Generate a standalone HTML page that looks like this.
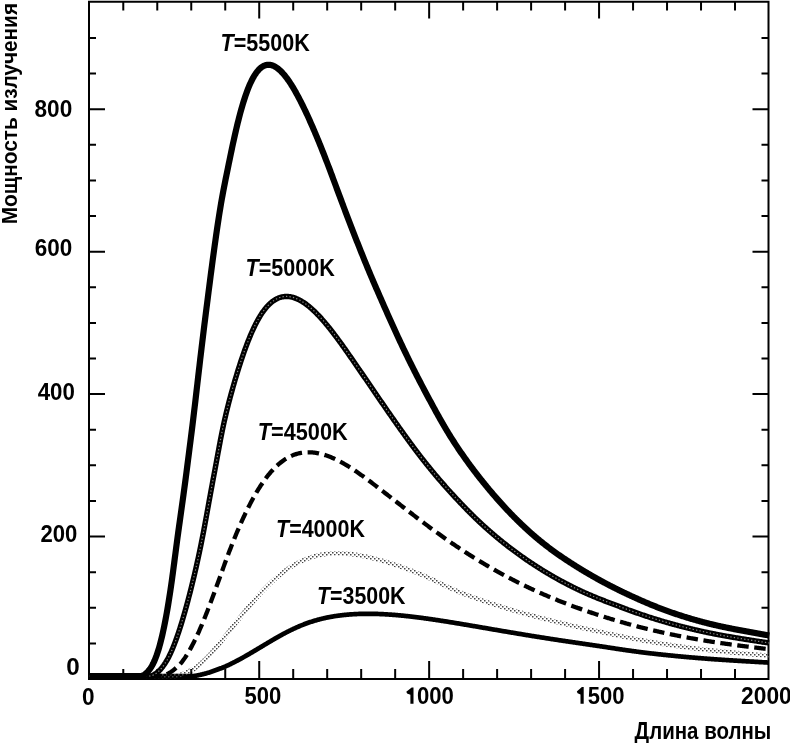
<!DOCTYPE html>
<html><head><meta charset="utf-8"><style>
html,body{margin:0;padding:0;background:#fff;}
body{width:790px;height:743px;overflow:hidden;position:relative;}
svg{position:absolute;left:0;top:0;will-change:transform;}
text{font-family:"Liberation Sans",sans-serif;font-weight:bold;fill:#000;}
</style></head><body>
<svg width="790" height="743" viewBox="0 0 790 743">
<defs>
<pattern id="chk" width="4" height="4" patternUnits="userSpaceOnUse">
<rect x="0" y="0" width="1.5" height="1.5" fill="#444"/>
<rect x="2" y="2" width="1.5" height="1.5" fill="#444"/>
</pattern>
</defs>
<g fill="none" stroke="#000" stroke-width="2">
<path d="M89 1.8 H768.5 V679 H89 Z"/>
<path d="M123.28 679.00 V669.00 M123.28 1.80 V10.60 M157.27 679.00 V669.00 M157.27 1.80 V10.60 M191.25 679.00 V669.00 M191.25 1.80 V10.60 M225.24 679.00 V669.00 M225.24 1.80 V10.60 M259.22 679.00 V661.00 M259.22 1.80 V18.60 M293.21 679.00 V669.00 M293.21 1.80 V10.60 M327.19 679.00 V669.00 M327.19 1.80 V10.60 M361.18 679.00 V669.00 M361.18 1.80 V10.60 M395.17 679.00 V669.00 M395.17 1.80 V10.60 M429.15 679.00 V661.00 M429.15 1.80 V18.60 M463.13 679.00 V669.00 M463.13 1.80 V10.60 M497.12 679.00 V669.00 M497.12 1.80 V10.60 M531.11 679.00 V669.00 M531.11 1.80 V10.60 M565.09 679.00 V669.00 M565.09 1.80 V10.60 M599.07 679.00 V661.00 M599.07 1.80 V18.60 M633.06 679.00 V669.00 M633.06 1.80 V10.60 M667.04 679.00 V669.00 M667.04 1.80 V10.60 M701.03 679.00 V669.00 M701.03 1.80 V10.60 M735.01 679.00 V669.00 M735.01 1.80 V10.60 M89.00 643.39 H96.00 M768.50 643.39 H761.50 M89.00 607.77 H96.00 M768.50 607.77 H761.50 M89.00 572.16 H96.00 M768.50 572.16 H761.50 M89.00 536.55 H105.00 M768.50 536.55 H752.50 M89.00 500.94 H96.00 M768.50 500.94 H761.50 M89.00 465.32 H96.00 M768.50 465.32 H761.50 M89.00 429.71 H96.00 M768.50 429.71 H761.50 M89.00 394.10 H105.00 M768.50 394.10 H752.50 M89.00 358.49 H96.00 M768.50 358.49 H761.50 M89.00 322.88 H96.00 M768.50 322.88 H761.50 M89.00 287.26 H96.00 M768.50 287.26 H761.50 M89.00 251.65 H105.00 M768.50 251.65 H752.50 M89.00 216.04 H96.00 M768.50 216.04 H761.50 M89.00 180.42 H96.00 M768.50 180.42 H761.50 M89.00 144.81 H96.00 M768.50 144.81 H761.50 M89.00 109.20 H105.00 M768.50 109.20 H752.50 M89.00 73.59 H96.00 M768.50 73.59 H761.50 M89.00 37.97 H96.00 M768.50 37.97 H761.50"/>
</g>
<g fill="none" stroke-linejoin="round">
<path d="M89.64 676.00 L90.32 676.00 L91.00 676.00 L91.68 676.00 L92.36 676.00 L93.04 676.00 L93.72 676.00 L94.40 676.00 L95.08 676.00 L95.76 676.00 L96.44 676.00 L97.12 676.00 L97.80 676.00 L98.48 676.00 L99.16 676.00 L99.84 676.00 L100.52 676.00 L101.19 676.00 L101.87 676.00 L102.55 676.00 L103.23 676.00 L103.91 676.00 L104.59 676.00 L105.27 676.00 L105.95 676.00 L106.63 676.00 L107.31 676.00 L107.99 676.00 L108.67 676.00 L109.35 676.00 L110.03 676.00 L110.71 676.00 L111.39 676.00 L112.07 676.00 L112.75 676.00 L113.43 676.00 L114.11 676.00 L114.79 676.00 L115.47 676.00 L116.15 676.00 L116.83 676.00 L117.51 676.00 L118.19 676.00 L118.87 676.00 L119.55 676.00 L120.23 676.00 L120.91 676.00 L121.59 676.00 L122.27 676.00 L122.95 676.00 L123.62 676.00 L124.30 676.00 L124.98 676.00 L125.66 676.00 L126.34 676.00 L127.02 676.00 L127.70 676.00 L128.38 676.00 L129.06 676.00 L129.74 676.00 L130.42 676.00 L131.10 676.00 L131.78 676.00 L132.46 676.00 L133.14 676.00 L133.82 676.00 L134.50 676.00 L135.18 676.00 L135.86 676.00 L136.54 676.00 L137.22 676.00 L137.90 676.00 L138.58 676.00 L139.26 676.00 L139.94 676.00 L140.62 676.00 L141.30 676.00 L141.98 676.00 L142.66 676.00 L143.34 676.00 L144.02 676.00 L144.70 676.00 L145.38 676.00 L146.05 676.00 L146.73 676.00 L147.41 676.00 L148.09 676.00 L148.77 676.00 L149.45 676.00 L150.13 676.00 L150.81 676.00 L151.49 676.00 L152.17 676.00 L152.85 676.00 L153.53 676.00 L154.21 676.00 L154.89 676.00 L155.57 676.00 L156.25 676.00 L156.93 676.00 L157.61 676.00 L158.29 676.00 L158.97 676.00 L159.65 676.00 L160.33 676.00 L161.01 676.00 L161.69 676.00 L162.37 676.00 L163.05 676.00 L163.73 676.00 L164.41 676.00 L165.09 676.00 L165.77 676.00 L166.45 676.00 L167.13 676.00 L167.81 676.00 L168.49 676.00 L169.16 676.00 L169.84 676.00 L170.52 676.00 L171.20 676.00 L171.88 676.00 L172.56 676.00 L173.24 676.00 L173.92 676.00 L174.60 676.00 L175.28 676.00 L175.96 676.00 L176.64 676.00 L177.32 676.00 L178.00 676.00 L178.68 676.00 L179.36 676.00 L180.04 676.00 L180.72 676.00 L181.40 676.00 L182.08 676.00 L182.76 676.00 L183.44 676.00 L184.12 676.00 L184.80 676.00 L185.48 676.00 L186.16 676.00 L186.84 676.00 L187.52 676.00 L188.20 676.00 L188.88 676.00 L189.56 676.00 L190.24 676.00 L190.92 676.00 L191.60 676.00 L192.28 676.00 L192.96 676.00 L193.64 676.00 L194.32 675.95 L195.00 675.84 L195.68 675.72 L196.36 675.60 L197.04 675.47 L197.72 675.34 L198.40 675.21 L199.09 675.07 L199.77 674.93 L200.45 674.78 L201.13 674.63 L201.81 674.47 L202.49 674.31 L203.17 674.14 L203.85 673.97 L204.53 673.79 L205.21 673.61 L205.89 673.43 L206.57 673.23 L207.25 673.04 L207.93 672.84 L208.62 672.64 L209.30 672.43 L209.98 672.21 L210.66 671.99 L211.34 671.77 L212.02 671.54 L212.70 671.31 L213.38 671.07 L214.06 670.83 L214.74 670.58 L215.42 670.33 L216.10 670.08 L216.79 669.82 L217.47 669.55 L218.15 669.28 L218.83 669.01 L219.51 668.73 L220.19 668.45 L220.95 668.35 L221.64 668.07 L222.32 667.78 L223.01 667.49 L223.69 667.19 L224.38 666.89 L225.06 666.59 L225.75 666.28 L226.43 665.97 L227.12 665.66 L227.80 665.34 L228.49 665.02 L229.17 664.69 L229.86 664.37 L230.54 664.03 L231.23 663.70 L231.91 663.36 L232.59 663.02 L233.28 662.67 L233.96 662.33 L234.65 661.98 L235.33 661.62 L236.01 661.27 L236.70 660.91 L237.38 660.55 L238.07 660.18 L238.75 659.82 L239.43 659.45 L240.11 659.08 L240.80 658.71 L241.48 658.33 L242.16 657.95 L242.84 657.58 L243.52 657.19 L244.21 656.81 L244.89 656.43 L245.57 656.04 L246.25 655.65 L246.93 655.26 L247.61 654.87 L248.29 654.48 L248.97 654.09 L249.65 653.69 L250.32 653.30 L251.00 652.90 L251.68 652.50 L252.36 652.10 L253.03 651.70 L253.71 651.30 L254.39 650.90 L255.06 650.50 L255.74 650.10 L256.41 649.70 L257.09 649.29 L257.76 648.89 L258.44 648.49 L259.11 648.08 L259.78 647.68 L260.46 647.27 L261.13 646.87 L261.80 646.46 L262.47 646.06 L263.14 645.66 L263.81 645.25 L264.48 644.85 L265.16 644.45 L265.83 644.05 L266.50 643.65 L267.17 643.25 L267.83 642.85 L268.50 642.45 L269.17 642.05 L269.84 641.65 L270.51 641.26 L271.18 640.86 L271.85 640.47 L272.52 640.08 L273.18 639.68 L273.85 639.29 L274.52 638.91 L275.19 638.52 L275.86 638.14 L276.52 637.75 L277.19 637.37 L277.86 636.99 L278.53 636.62 L279.20 636.24 L279.86 635.87 L280.53 635.50 L281.20 635.13 L281.87 634.76 L282.54 634.40 L283.21 634.04 L283.88 633.68 L284.55 633.32 L285.22 632.97 L285.89 632.62 L286.56 632.27 L287.23 631.92 L287.90 631.58 L288.57 631.24 L289.24 630.90 L289.92 630.57 L290.59 630.24 L291.26 629.91 L291.93 629.58 L292.61 629.26 L293.28 628.94 L293.95 628.63 L294.63 628.32 L295.30 628.01 L295.98 627.70 L296.65 627.40 L297.33 627.10 L298.01 626.81 L298.68 626.52 L299.36 626.23 L300.04 625.94 L300.72 625.66 L301.39 625.38 L302.07 625.11 L302.75 624.84 L303.43 624.57 L304.11 624.31 L304.79 624.05 L305.47 623.79 L306.15 623.54 L306.83 623.29 L307.51 623.05 L308.19 622.81 L308.87 622.57 L309.56 622.33 L310.24 622.10 L310.92 621.88 L311.60 621.65 L312.29 621.44 L312.97 621.22 L313.65 621.01 L314.34 620.80 L315.02 620.59 L315.70 620.39 L316.39 620.20 L317.07 620.00 L317.76 619.81 L318.44 619.62 L319.13 619.44 L319.81 619.26 L320.50 619.09 L321.18 618.91 L321.87 618.74 L322.55 618.58 L323.24 618.42 L323.92 618.26 L324.61 618.10 L325.29 617.95 L325.98 617.80 L326.66 617.65 L327.35 617.51 L328.03 617.37 L328.72 617.24 L329.40 617.11 L330.09 616.98 L330.77 616.85 L331.46 616.73 L332.14 616.61 L332.83 616.49 L333.51 616.38 L334.20 616.26 L334.88 616.16 L335.57 616.05 L336.25 615.95 L336.94 615.85 L337.62 615.75 L338.31 615.66 L338.99 615.57 L339.68 615.48 L340.36 615.39 L341.04 615.31 L341.73 615.23 L342.41 615.15 L343.09 615.08 L343.78 615.00 L344.46 614.93 L345.14 614.86 L345.83 614.80 L346.51 614.73 L347.19 614.67 L347.88 614.62 L348.56 614.56 L349.24 614.50 L349.92 614.45 L350.61 614.40 L351.29 614.36 L351.97 614.31 L352.65 614.27 L353.33 614.23 L354.02 614.19 L354.70 614.15 L355.38 614.11 L356.06 614.08 L356.74 614.05 L357.42 614.02 L358.11 613.99 L358.79 613.97 L359.47 613.94 L360.15 613.92 L360.83 613.90 L361.51 613.89 L362.19 613.87 L362.87 613.86 L363.55 613.84 L364.23 613.83 L364.91 613.82 L365.59 613.82 L366.27 613.81 L366.95 613.81 L367.63 613.81 L368.32 613.81 L369.00 613.81 L369.68 613.81 L370.36 613.82 L371.04 613.82 L371.72 613.83 L372.40 613.84 L373.08 613.85 L373.76 613.86 L374.44 613.88 L375.12 613.89 L375.80 613.91 L376.48 613.93 L377.16 613.95 L377.84 613.97 L378.51 613.99 L379.19 614.02 L379.87 614.05 L380.55 614.07 L381.23 614.10 L381.91 614.13 L382.59 614.16 L383.27 614.20 L383.95 614.23 L384.63 614.27 L385.31 614.30 L385.99 614.34 L386.67 614.38 L387.35 614.42 L388.03 614.47 L388.71 614.51 L389.39 614.56 L390.07 614.60 L390.75 614.65 L391.43 614.70 L392.11 614.75 L392.79 614.80 L393.47 614.85 L394.15 614.90 L394.83 614.96 L395.51 615.01 L396.19 615.07 L396.87 615.13 L397.54 615.19 L398.22 615.25 L398.90 615.31 L399.58 615.37 L400.26 615.43 L400.94 615.50 L401.62 615.56 L402.30 615.63 L402.98 615.70 L403.66 615.77 L404.34 615.83 L405.02 615.90 L405.70 615.98 L406.38 616.05 L407.06 616.12 L407.74 616.19 L408.42 616.27 L409.10 616.35 L409.78 616.42 L410.46 616.50 L411.14 616.58 L411.82 616.66 L412.50 616.74 L413.18 616.82 L413.86 616.90 L414.53 616.98 L415.21 617.06 L415.89 617.15 L416.57 617.23 L417.25 617.32 L417.93 617.40 L418.61 617.49 L419.29 617.58 L419.97 617.67 L420.65 617.76 L421.33 617.85 L422.01 617.94 L422.69 618.03 L423.37 618.12 L424.05 618.21 L424.73 618.30 L425.41 618.40 L426.09 618.49 L426.77 618.59 L427.45 618.68 L428.13 618.78 L428.81 618.87 L429.49 618.97 L430.17 619.07 L430.85 619.17 L431.53 619.27 L432.21 619.37 L432.89 619.47 L433.57 619.57 L434.24 619.67 L434.92 619.77 L435.60 619.87 L436.28 619.97 L436.96 620.07 L437.64 620.18 L438.32 620.28 L439.00 620.38 L439.68 620.49 L440.36 620.59 L441.04 620.70 L441.72 620.80 L442.40 620.91 L443.08 621.01 L443.76 621.12 L444.44 621.23 L445.12 621.34 L445.80 621.44 L446.48 621.55 L447.16 621.66 L447.84 621.77 L448.52 621.88 L449.20 621.99 L449.88 622.10 L450.56 622.21 L451.24 622.32 L451.92 622.43 L452.60 622.54 L453.28 622.65 L453.96 622.76 L454.64 622.87 L455.32 622.98 L456.00 623.09 L456.68 623.21 L457.36 623.32 L458.04 623.43 L458.72 623.54 L459.39 623.66 L460.07 623.77 L460.75 623.88 L461.43 624.00 L462.11 624.11 L462.79 624.22 L463.47 624.34 L464.15 624.45 L464.83 624.57 L465.51 624.68 L466.19 624.80 L466.87 624.91 L467.55 625.03 L468.23 625.14 L468.91 625.26 L469.59 625.37 L470.27 625.49 L470.95 625.60 L471.63 625.72 L472.31 625.84 L472.99 625.95 L473.67 626.07 L474.35 626.18 L475.03 626.30 L475.71 626.42 L476.39 626.53 L477.07 626.65 L477.75 626.77 L478.43 626.88 L479.11 627.00 L479.79 627.12 L480.47 627.23 L481.15 627.35 L481.83 627.47 L482.51 627.58 L483.19 627.70 L483.87 627.82 L484.55 627.93 L485.22 628.05 L485.90 628.17 L486.58 628.28 L487.26 628.40 L487.94 628.52 L488.62 628.63 L489.30 628.75 L489.98 628.87 L490.66 628.99 L491.34 629.10 L492.02 629.22 L492.70 629.34 L493.38 629.45 L494.06 629.57 L494.74 629.69 L495.42 629.80 L496.10 629.92 L496.78 630.04 L497.46 630.15 L498.14 630.27 L498.82 630.38 L499.50 630.50 L500.18 630.62 L500.86 630.73 L501.54 630.85 L502.22 630.97 L502.90 631.08 L503.58 631.20 L504.26 631.31 L504.94 631.43 L505.62 631.54 L506.30 631.66 L506.98 631.78 L507.66 631.89 L508.34 632.01 L509.01 632.12 L509.69 632.24 L510.37 632.35 L511.05 632.46 L511.73 632.58 L512.41 632.69 L513.09 632.81 L513.77 632.92 L514.45 633.04 L515.13 633.15 L515.81 633.26 L516.49 633.38 L517.17 633.49 L517.85 633.61 L518.53 633.72 L519.21 633.83 L519.89 633.94 L520.57 634.06 L521.25 634.17 L521.93 634.28 L522.61 634.39 L523.29 634.51 L523.97 634.62 L524.65 634.73 L525.33 634.84 L526.01 634.95 L526.69 635.07 L527.37 635.18 L528.05 635.29 L528.73 635.40 L529.41 635.51 L530.09 635.62 L530.77 635.73 L531.44 635.84 L532.12 635.95 L532.80 636.06 L533.48 636.17 L534.16 636.28 L534.84 636.39 L535.52 636.50 L536.20 636.61 L536.88 636.72 L537.56 636.83 L538.24 636.93 L538.92 637.04 L539.60 637.15 L540.28 637.26 L540.96 637.37 L541.64 637.47 L542.32 637.58 L543.00 637.69 L543.68 637.80 L544.36 637.90 L545.04 638.01 L545.72 638.12 L546.40 638.22 L547.08 638.33 L547.76 638.43 L548.44 638.54 L549.12 638.65 L549.80 638.75 L550.48 638.86 L551.16 638.96 L551.84 639.07 L552.52 639.17 L553.19 639.27 L553.87 639.38 L554.55 639.48 L555.23 639.59 L555.91 639.69 L556.59 639.79 L557.27 639.90 L557.95 640.00 L558.63 640.10 L559.31 640.20 L559.99 640.31 L560.67 640.41 L561.35 640.51 L562.03 640.61 L562.71 640.72 L563.39 640.82 L564.07 640.92 L564.75 641.02 L565.43 641.12 L566.11 641.22 L566.79 641.32 L567.47 641.42 L568.15 641.52 L568.83 641.62 L569.51 641.72 L570.18 641.82 L570.86 641.92 L571.54 642.02 L572.22 642.12 L572.90 642.22 L573.58 642.32 L574.26 642.42 L574.94 642.52 L575.62 642.62 L576.30 642.72 L576.98 642.82 L577.66 642.92 L578.34 643.02 L579.02 643.12 L579.70 643.21 L580.38 643.31 L581.05 643.41 L581.73 643.51 L582.41 643.61 L583.09 643.71 L583.77 643.81 L584.45 643.91 L585.13 644.01 L585.81 644.10 L586.49 644.20 L587.17 644.30 L587.84 644.40 L588.52 644.50 L589.20 644.60 L589.88 644.70 L590.56 644.80 L591.24 644.90 L591.92 645.00 L592.60 645.10 L593.27 645.20 L593.95 645.30 L594.63 645.40 L595.31 645.50 L595.99 645.60 L596.67 645.71 L597.34 645.81 L598.02 645.91 L598.70 646.01 L599.38 646.11 L600.06 646.21 L600.73 646.32 L601.41 646.42 L602.09 646.52 L602.77 646.63 L603.45 646.73 L604.12 646.83 L604.80 646.94 L605.48 647.04 L606.16 647.14 L606.83 647.25 L607.51 647.35 L608.19 647.45 L608.87 647.56 L609.54 647.66 L610.22 647.77 L610.90 647.87 L611.58 647.97 L612.25 648.08 L612.93 648.18 L613.61 648.29 L614.29 648.39 L614.96 648.49 L615.64 648.60 L616.32 648.70 L617.00 648.80 L617.67 648.91 L618.35 649.01 L619.03 649.11 L619.71 649.21 L620.38 649.32 L621.06 649.42 L621.74 649.52 L622.42 649.62 L623.10 649.72 L623.77 649.82 L624.45 649.92 L625.13 650.02 L625.81 650.11 L626.48 650.21 L627.16 650.31 L627.84 650.41 L628.52 650.50 L629.20 650.60 L629.87 650.69 L630.55 650.79 L631.23 650.88 L631.91 650.98 L632.59 651.07 L633.27 651.16 L633.94 651.25 L634.62 651.35 L635.30 651.44 L635.98 651.53 L636.66 651.62 L637.34 651.71 L638.02 651.79 L638.69 651.88 L639.37 651.97 L640.05 652.06 L640.73 652.14 L641.41 652.23 L642.09 652.32 L642.77 652.40 L643.45 652.48 L644.13 652.57 L644.81 652.65 L645.48 652.73 L646.16 652.82 L646.84 652.90 L647.52 652.98 L648.20 653.06 L648.88 653.14 L649.56 653.22 L650.24 653.30 L650.92 653.38 L651.60 653.46 L652.28 653.54 L652.96 653.62 L653.64 653.69 L654.32 653.77 L655.00 653.85 L655.68 653.92 L656.36 654.00 L657.03 654.07 L657.71 654.15 L658.39 654.22 L659.07 654.30 L659.75 654.37 L660.43 654.45 L661.11 654.52 L661.79 654.59 L662.47 654.66 L663.15 654.74 L663.83 654.81 L664.51 654.88 L665.19 654.95 L665.87 655.02 L666.55 655.09 L667.23 655.16 L667.91 655.23 L668.59 655.30 L669.27 655.37 L669.95 655.44 L670.63 655.51 L671.31 655.57 L671.99 655.64 L672.67 655.71 L673.35 655.78 L674.03 655.84 L674.71 655.91 L675.39 655.97 L676.07 656.04 L676.75 656.11 L677.43 656.17 L678.11 656.24 L678.79 656.30 L679.47 656.36 L680.15 656.43 L680.83 656.49 L681.51 656.56 L682.19 656.62 L682.87 656.68 L683.55 656.74 L684.23 656.81 L684.91 656.87 L685.59 656.93 L686.27 656.99 L686.95 657.05 L687.63 657.11 L688.31 657.17 L688.99 657.23 L689.67 657.29 L690.35 657.35 L691.03 657.41 L691.72 657.47 L692.40 657.53 L693.08 657.59 L693.76 657.64 L694.44 657.70 L695.12 657.76 L695.80 657.82 L696.48 657.87 L697.16 657.93 L697.84 657.98 L698.52 658.04 L699.20 658.10 L699.88 658.15 L700.56 658.21 L701.24 658.26 L701.92 658.31 L702.60 658.37 L703.28 658.42 L703.96 658.48 L704.64 658.53 L705.32 658.58 L706.00 658.63 L706.68 658.69 L707.36 658.74 L708.04 658.79 L708.72 658.84 L709.41 658.89 L710.09 658.94 L710.77 658.99 L711.45 659.04 L712.13 659.09 L712.81 659.14 L713.49 659.19 L714.17 659.24 L714.85 659.29 L715.53 659.33 L716.21 659.38 L716.89 659.43 L717.57 659.48 L718.25 659.52 L718.93 659.57 L719.61 659.62 L720.29 659.66 L720.97 659.71 L721.66 659.76 L722.34 659.80 L723.02 659.85 L723.70 659.89 L724.38 659.94 L725.06 659.98 L725.74 660.02 L726.42 660.07 L727.10 660.11 L727.78 660.16 L728.46 660.20 L729.14 660.24 L729.82 660.29 L730.50 660.33 L731.18 660.37 L731.86 660.41 L732.55 660.46 L733.23 660.50 L733.91 660.54 L734.59 660.58 L735.27 660.62 L735.95 660.67 L736.63 660.71 L737.31 660.75 L737.99 660.79 L738.67 660.83 L739.35 660.87 L740.03 660.91 L740.71 660.95 L741.39 660.99 L742.07 661.03 L742.75 661.07 L743.43 661.12 L744.11 661.16 L744.79 661.20 L745.48 661.24 L746.16 661.28 L746.84 661.32 L747.52 661.36 L748.20 661.40 L748.88 661.44 L749.56 661.48 L750.24 661.52 L750.92 661.56 L751.60 661.60 L752.28 661.64 L752.96 661.68 L753.64 661.72 L754.32 661.75 L755.00 661.79 L755.68 661.83 L756.36 661.87 L757.04 661.91 L757.72 661.95 L758.40 661.99 L759.08 662.03 L759.76 662.07 L760.44 662.11 L761.12 662.15 L761.80 662.19 L762.48 662.23 L763.16 662.27 L763.84 662.31 L764.52 662.35 L765.20 662.39 L765.88 662.43 L766.56 662.46 L767.24 662.50 L767.92 662.54 L768.60 662.58 L768.94 662.60" stroke="#000" stroke-width="4.7"/>
<path d="M89.64 676.00 L90.32 676.00 L91.00 676.00 L91.68 676.00 L92.36 676.00 L93.04 676.00 L93.72 676.00 L94.40 676.00 L95.08 676.00 L95.76 676.00 L96.44 676.00 L97.12 676.00 L97.80 676.00 L98.48 676.00 L99.16 676.00 L99.84 676.00 L100.52 676.00 L101.19 676.00 L101.87 676.00 L102.55 676.00 L103.23 676.00 L103.91 676.00 L104.59 676.00 L105.27 676.00 L105.95 676.00 L106.63 676.00 L107.31 676.00 L107.99 676.00 L108.67 676.00 L109.35 676.00 L110.03 676.00 L110.71 676.00 L111.39 676.00 L112.07 676.00 L112.75 676.00 L113.43 676.00 L114.11 676.00 L114.79 676.00 L115.47 676.00 L116.15 676.00 L116.83 676.00 L117.51 676.00 L118.19 676.00 L118.87 676.00 L119.55 676.00 L120.23 676.00 L120.91 676.00 L121.59 676.00 L122.27 676.00 L122.95 676.00 L123.62 676.00 L124.30 676.00 L124.98 676.00 L125.66 676.00 L126.34 676.00 L127.02 676.00 L127.70 676.00 L128.38 676.00 L129.06 676.00 L129.74 676.00 L130.42 676.00 L131.10 676.00 L131.78 676.00 L132.46 676.00 L133.14 676.00 L133.82 676.00 L134.50 676.00 L135.18 676.00 L135.86 676.00 L136.54 676.00 L137.22 676.00 L137.90 676.00 L138.58 676.00 L139.26 676.00 L139.94 676.00 L140.62 676.00 L141.30 676.00 L141.98 676.00 L142.66 676.00 L143.34 676.00 L144.02 676.00 L144.70 676.00 L145.38 676.00 L146.05 676.00 L146.73 676.00 L147.41 676.00 L148.09 676.00 L148.77 676.00 L149.45 676.00 L150.13 676.00 L150.81 676.00 L151.49 676.00 L152.17 676.00 L152.85 676.00 L153.53 676.00 L154.21 676.00 L154.89 676.00 L155.57 676.00 L156.25 676.00 L156.93 676.00 L157.61 676.00 L158.29 676.00 L158.97 676.00 L159.65 676.00 L160.33 676.00 L161.01 676.00 L161.69 676.00 L162.37 676.00 L163.06 676.00 L163.74 676.00 L164.42 676.00 L165.10 676.00 L165.78 676.00 L166.46 676.00 L167.15 676.00 L167.83 676.00 L168.51 676.00 L169.20 676.00 L169.88 676.00 L170.56 676.00 L171.25 676.00 L171.93 676.00 L172.62 676.00 L173.31 676.00 L173.99 676.00 L174.68 676.00 L175.37 676.00 L176.06 675.92 L176.75 675.75 L177.44 675.58 L178.13 675.40 L178.82 675.21 L179.51 675.00 L180.20 674.79 L180.90 674.57 L181.59 674.34 L182.28 674.09 L182.98 673.84 L183.67 673.57 L184.37 673.29 L185.06 673.00 L185.76 672.70 L186.46 672.39 L187.15 672.06 L187.85 671.72 L188.55 671.37 L189.25 671.01 L189.94 670.63 L190.64 670.25 L191.34 669.84 L192.42 670.04 L193.10 669.58 L193.79 669.11 L194.47 668.62 L195.16 668.13 L195.84 667.62 L196.52 667.10 L197.20 666.57 L197.88 666.03 L198.56 665.47 L199.24 664.91 L199.92 664.33 L200.59 663.74 L201.27 663.14 L201.95 662.53 L202.62 661.91 L203.30 661.28 L203.97 660.64 L204.65 659.99 L205.32 659.33 L206.00 658.66 L206.67 657.98 L207.34 657.29 L208.02 656.59 L208.69 655.88 L209.36 655.16 L210.04 654.44 L210.71 653.70 L211.38 652.96 L212.05 652.21 L212.73 651.45 L213.40 650.69 L214.07 649.91 L214.75 649.13 L215.42 648.35 L216.10 647.55 L216.77 646.76 L217.44 645.95 L218.12 645.14 L218.79 644.32 L219.47 643.50 L220.15 642.67 L220.82 641.84 L221.50 641.00 L222.18 640.16 L222.86 639.32 L223.53 638.47 L224.21 637.62 L224.89 636.76 L225.57 635.90 L226.25 635.04 L226.93 634.18 L227.61 633.31 L228.29 632.44 L228.98 631.57 L229.66 630.70 L230.34 629.83 L231.02 628.95 L231.71 628.08 L232.39 627.20 L233.08 626.33 L233.76 625.45 L234.45 624.57 L235.13 623.70 L235.82 622.82 L236.50 621.95 L237.19 621.07 L237.88 620.20 L238.56 619.33 L239.25 618.46 L239.94 617.59 L240.62 616.73 L241.31 615.86 L242.00 615.00 L242.69 614.14 L243.37 613.29 L244.06 612.43 L244.75 611.58 L245.44 610.74 L246.12 609.89 L246.81 609.05 L247.50 608.21 L248.19 607.38 L248.87 606.55 L249.56 605.73 L250.25 604.91 L250.94 604.09 L251.62 603.28 L252.31 602.48 L253.00 601.68 L253.68 600.88 L254.37 600.09 L255.05 599.30 L255.74 598.52 L256.42 597.75 L257.11 596.98 L257.79 596.21 L258.48 595.45 L259.16 594.70 L259.84 593.95 L260.52 593.21 L261.21 592.48 L261.89 591.75 L262.57 591.03 L263.25 590.31 L263.93 589.60 L264.61 588.90 L265.29 588.20 L265.97 587.51 L266.64 586.83 L267.32 586.15 L268.00 585.48 L268.68 584.82 L269.35 584.16 L270.03 583.51 L270.70 582.87 L271.38 582.24 L272.05 581.61 L272.72 580.99 L273.40 580.37 L274.07 579.76 L274.74 579.16 L275.41 578.57 L276.09 577.99 L276.76 577.41 L277.43 576.84 L278.10 576.27 L278.77 575.71 L279.44 575.16 L280.11 574.62 L280.77 574.09 L281.44 573.56 L282.11 573.04 L282.78 572.53 L283.45 572.02 L284.11 571.52 L284.78 571.03 L285.45 570.55 L286.11 570.07 L286.78 569.60 L287.45 569.14 L288.11 568.68 L288.78 568.24 L289.44 567.80 L290.11 567.36 L290.77 566.94 L291.44 566.52 L292.11 566.11 L292.77 565.70 L293.44 565.31 L294.10 564.92 L294.77 564.53 L295.43 564.16 L296.10 563.79 L296.76 563.43 L297.43 563.07 L298.09 562.73 L298.76 562.39 L299.42 562.05 L300.09 561.73 L300.75 561.41 L301.42 561.09 L302.09 560.79 L302.75 560.49 L303.42 560.20 L304.09 559.91 L304.75 559.63 L305.42 559.36 L306.09 559.09 L306.75 558.83 L307.42 558.58 L308.09 558.33 L308.76 558.09 L309.42 557.86 L310.09 557.63 L310.76 557.41 L311.43 557.20 L312.10 556.99 L312.77 556.79 L313.44 556.59 L314.11 556.40 L314.78 556.22 L315.45 556.04 L316.12 555.87 L316.79 555.70 L317.46 555.55 L318.13 555.39 L318.80 555.24 L319.48 555.10 L320.15 554.97 L320.82 554.83 L321.49 554.71 L322.17 554.59 L322.84 554.48 L323.52 554.37 L324.19 554.27 L324.86 554.17 L325.54 554.08 L326.21 553.99 L326.89 553.91 L327.56 553.83 L328.24 553.76 L328.92 553.70 L329.59 553.64 L330.27 553.58 L330.95 553.53 L331.62 553.48 L332.30 553.44 L332.98 553.41 L333.66 553.38 L334.33 553.35 L335.01 553.33 L335.69 553.31 L336.37 553.30 L337.05 553.30 L337.73 553.29 L338.41 553.29 L339.09 553.30 L339.77 553.31 L340.45 553.33 L341.13 553.35 L341.81 553.37 L342.49 553.40 L343.17 553.43 L343.85 553.47 L344.53 553.51 L345.21 553.55 L345.89 553.60 L346.57 553.65 L347.26 553.71 L347.94 553.77 L348.62 553.83 L349.30 553.90 L349.98 553.97 L350.66 554.05 L351.35 554.13 L352.03 554.21 L352.71 554.30 L353.39 554.39 L354.08 554.48 L354.76 554.57 L355.44 554.67 L356.12 554.78 L356.81 554.88 L357.49 554.99 L358.17 555.11 L358.86 555.22 L359.54 555.34 L360.22 555.46 L360.91 555.59 L361.59 555.72 L362.27 555.85 L362.95 555.98 L363.64 556.12 L364.32 556.26 L365.00 556.40 L365.69 556.54 L366.37 556.69 L367.05 556.84 L367.74 556.99 L368.42 557.15 L369.10 557.31 L369.79 557.47 L370.47 557.63 L371.15 557.80 L371.84 557.96 L372.52 558.13 L373.20 558.31 L373.89 558.48 L374.57 558.66 L375.25 558.84 L375.94 559.02 L376.62 559.20 L377.30 559.39 L377.99 559.57 L378.67 559.76 L379.35 559.95 L380.03 560.15 L380.72 560.34 L381.40 560.54 L382.08 560.74 L382.77 560.94 L383.45 561.14 L384.13 561.34 L384.81 561.55 L385.50 561.76 L386.18 561.97 L386.86 562.18 L387.54 562.39 L388.23 562.60 L388.91 562.82 L389.59 563.04 L390.27 563.25 L390.95 563.47 L391.64 563.70 L392.32 563.92 L393.00 564.14 L393.68 564.37 L394.36 564.60 L395.04 564.82 L395.73 565.05 L396.41 565.29 L397.09 565.52 L397.77 565.75 L398.45 565.99 L399.13 566.22 L399.81 566.46 L400.49 566.70 L401.17 566.94 L401.86 567.18 L402.54 567.42 L403.22 567.66 L403.90 567.91 L404.58 568.15 L405.26 568.40 L405.94 568.65 L406.61 568.90 L407.29 569.15 L407.97 569.40 L408.65 569.65 L409.33 569.91 L410.01 570.16 L410.69 570.42 L411.36 570.68 L412.04 570.94 L412.72 571.20 L413.40 571.46 L414.07 571.72 L414.75 571.98 L415.42 572.25 L416.10 572.52 L416.77 572.78 L417.45 573.05 L418.12 573.33 L418.80 573.60 L419.47 573.87 L420.14 574.15 L420.81 574.43 L421.49 574.71 L422.16 574.99 L422.83 575.27 L423.50 575.55 L424.17 575.84 L424.84 576.13 L425.50 576.42 L426.17 576.71 L426.84 577.01 L427.50 577.30 L428.17 577.60 L428.83 577.90 L429.50 578.20 L430.16 578.50 L430.82 578.81 L431.48 579.12 L432.14 579.43 L432.81 579.74 L433.47 580.05 L434.12 580.36 L434.78 580.68 L435.44 580.99 L436.10 581.31 L436.76 581.63 L437.41 581.95 L438.07 582.27 L438.73 582.59 L439.39 582.91 L440.04 583.23 L440.70 583.55 L441.35 583.87 L442.01 584.19 L442.67 584.51 L443.33 584.83 L443.98 585.15 L444.64 585.47 L445.30 585.79 L445.96 586.10 L446.62 586.41 L447.28 586.73 L447.94 587.04 L448.60 587.35 L449.26 587.65 L449.92 587.96 L450.59 588.26 L451.25 588.56 L451.91 588.86 L452.58 589.16 L453.25 589.45 L453.91 589.75 L454.58 590.04 L455.25 590.33 L455.92 590.62 L456.59 590.90 L457.26 591.18 L457.93 591.46 L458.60 591.74 L459.27 592.02 L459.94 592.30 L460.62 592.57 L461.29 592.84 L461.97 593.11 L462.64 593.38 L463.32 593.65 L463.99 593.91 L464.67 594.18 L465.35 594.44 L466.02 594.70 L466.70 594.96 L467.38 595.22 L468.06 595.48 L468.74 595.73 L469.42 595.99 L470.10 596.24 L470.78 596.49 L471.46 596.74 L472.14 596.99 L472.82 597.24 L473.50 597.49 L474.18 597.73 L474.86 597.98 L475.54 598.22 L476.23 598.47 L476.91 598.71 L477.59 598.95 L478.27 599.19 L478.96 599.43 L479.64 599.67 L480.32 599.91 L481.00 600.14 L481.69 600.38 L482.37 600.61 L483.06 600.85 L483.74 601.08 L484.42 601.31 L485.11 601.54 L485.79 601.77 L486.48 602.00 L487.16 602.23 L487.84 602.46 L488.53 602.69 L489.21 602.91 L489.90 603.14 L490.58 603.36 L491.27 603.59 L491.95 603.81 L492.64 604.03 L493.32 604.25 L494.01 604.47 L494.70 604.69 L495.38 604.91 L496.07 605.13 L496.75 605.35 L497.44 605.57 L498.12 605.78 L498.81 606.00 L499.49 606.21 L500.18 606.43 L500.87 606.64 L501.55 606.85 L502.24 607.06 L502.92 607.28 L503.61 607.49 L504.30 607.70 L504.98 607.90 L505.67 608.11 L506.36 608.32 L507.04 608.53 L507.73 608.73 L508.41 608.94 L509.10 609.14 L509.79 609.35 L510.47 609.55 L511.16 609.75 L511.85 609.95 L512.53 610.16 L513.22 610.36 L513.90 610.56 L514.59 610.76 L515.28 610.95 L515.96 611.15 L516.65 611.35 L517.34 611.55 L518.02 611.74 L518.71 611.94 L519.39 612.13 L520.08 612.33 L520.77 612.52 L521.45 612.72 L522.14 612.91 L522.83 613.10 L523.51 613.29 L524.20 613.48 L524.88 613.67 L525.57 613.86 L526.26 614.05 L526.94 614.24 L527.63 614.43 L528.31 614.62 L529.00 614.80 L529.69 614.99 L530.37 615.17 L531.06 615.36 L531.74 615.54 L532.43 615.73 L533.11 615.91 L533.80 616.10 L534.48 616.28 L535.17 616.46 L535.86 616.64 L536.54 616.82 L537.23 617.00 L537.91 617.18 L538.60 617.36 L539.28 617.54 L539.97 617.72 L540.65 617.90 L541.34 618.08 L542.02 618.26 L542.71 618.43 L543.39 618.61 L544.08 618.79 L544.76 618.96 L545.44 619.14 L546.13 619.31 L546.81 619.49 L547.50 619.66 L548.18 619.83 L548.87 620.01 L549.55 620.18 L550.23 620.35 L550.92 620.52 L551.60 620.69 L552.29 620.86 L552.97 621.03 L553.65 621.20 L554.34 621.37 L555.02 621.54 L555.71 621.71 L556.39 621.88 L557.07 622.05 L557.76 622.22 L558.44 622.38 L559.12 622.55 L559.81 622.72 L560.49 622.88 L561.17 623.05 L561.86 623.21 L562.54 623.38 L563.22 623.54 L563.90 623.70 L564.59 623.87 L565.27 624.03 L565.95 624.19 L566.64 624.35 L567.32 624.52 L568.00 624.68 L568.68 624.84 L569.37 625.00 L570.05 625.16 L570.73 625.32 L571.41 625.48 L572.10 625.64 L572.78 625.79 L573.46 625.95 L574.14 626.11 L574.83 626.27 L575.51 626.42 L576.19 626.58 L576.87 626.74 L577.55 626.89 L578.24 627.05 L578.92 627.20 L579.60 627.36 L580.28 627.51 L580.96 627.66 L581.64 627.82 L582.33 627.97 L583.01 628.12 L583.69 628.27 L584.37 628.42 L585.05 628.58 L585.73 628.73 L586.42 628.88 L587.10 629.03 L587.78 629.18 L588.46 629.33 L589.14 629.47 L589.82 629.62 L590.50 629.77 L591.18 629.92 L591.87 630.07 L592.55 630.21 L593.23 630.36 L593.91 630.51 L594.59 630.65 L595.27 630.80 L595.95 630.94 L596.63 631.09 L597.31 631.23 L597.99 631.38 L598.67 631.52 L599.35 631.66 L600.04 631.81 L600.72 631.95 L601.40 632.09 L602.08 632.24 L602.76 632.38 L603.44 632.52 L604.12 632.66 L604.80 632.81 L605.48 632.95 L606.16 633.09 L606.84 633.23 L607.52 633.37 L608.20 633.52 L608.88 633.66 L609.56 633.80 L610.24 633.94 L610.91 634.08 L611.59 634.22 L612.27 634.36 L612.95 634.50 L613.63 634.65 L614.31 634.79 L614.99 634.93 L615.67 635.07 L616.35 635.21 L617.03 635.35 L617.70 635.49 L618.38 635.63 L619.06 635.77 L619.74 635.91 L620.42 636.05 L621.10 636.19 L621.77 636.33 L622.45 636.47 L623.13 636.61 L623.81 636.75 L624.49 636.89 L625.17 637.03 L625.84 637.17 L626.52 637.31 L627.20 637.44 L627.88 637.58 L628.56 637.72 L629.24 637.85 L629.91 637.99 L630.59 638.12 L631.27 638.26 L631.95 638.39 L632.63 638.53 L633.31 638.66 L633.98 638.79 L634.66 638.92 L635.34 639.05 L636.02 639.18 L636.70 639.31 L637.38 639.44 L638.06 639.57 L638.73 639.70 L639.41 639.82 L640.09 639.95 L640.77 640.08 L641.45 640.20 L642.13 640.33 L642.81 640.45 L643.49 640.57 L644.17 640.70 L644.85 640.82 L645.52 640.94 L646.20 641.06 L646.88 641.18 L647.56 641.30 L648.24 641.42 L648.92 641.54 L649.60 641.66 L650.28 641.78 L650.96 641.89 L651.64 642.01 L652.32 642.13 L653.00 642.24 L653.68 642.36 L654.36 642.47 L655.04 642.58 L655.72 642.70 L656.40 642.81 L657.08 642.92 L657.76 643.03 L658.44 643.14 L659.12 643.26 L659.80 643.37 L660.48 643.48 L661.16 643.58 L661.84 643.69 L662.52 643.80 L663.19 643.91 L663.87 644.02 L664.55 644.12 L665.23 644.23 L665.91 644.34 L666.59 644.44 L667.27 644.55 L667.95 644.65 L668.63 644.76 L669.31 644.86 L669.99 644.96 L670.67 645.06 L671.36 645.17 L672.04 645.27 L672.72 645.37 L673.40 645.47 L674.08 645.57 L674.76 645.67 L675.44 645.77 L676.12 645.87 L676.80 645.97 L677.48 646.07 L678.16 646.16 L678.84 646.26 L679.52 646.36 L680.20 646.45 L680.88 646.55 L681.56 646.65 L682.24 646.74 L682.92 646.84 L683.60 646.93 L684.28 647.02 L684.96 647.12 L685.64 647.21 L686.32 647.30 L687.00 647.39 L687.68 647.49 L688.36 647.58 L689.04 647.67 L689.72 647.76 L690.40 647.85 L691.08 647.94 L691.76 648.03 L692.44 648.11 L693.12 648.20 L693.81 648.29 L694.49 648.38 L695.17 648.46 L695.85 648.55 L696.53 648.63 L697.21 648.72 L697.89 648.80 L698.57 648.89 L699.25 648.97 L699.93 649.06 L700.61 649.14 L701.29 649.22 L701.97 649.30 L702.65 649.39 L703.33 649.47 L704.01 649.55 L704.70 649.63 L705.38 649.71 L706.06 649.79 L706.74 649.86 L707.42 649.94 L708.10 650.02 L708.78 650.10 L709.46 650.18 L710.14 650.25 L710.82 650.33 L711.50 650.40 L712.18 650.48 L712.87 650.55 L713.55 650.63 L714.23 650.70 L714.91 650.78 L715.59 650.85 L716.27 650.92 L716.95 650.99 L717.63 651.07 L718.31 651.14 L718.99 651.21 L719.67 651.28 L720.36 651.35 L721.04 651.42 L721.72 651.49 L722.40 651.56 L723.08 651.63 L723.76 651.70 L724.44 651.76 L725.12 651.83 L725.80 651.90 L726.48 651.97 L727.17 652.03 L727.85 652.10 L728.53 652.16 L729.21 652.23 L729.89 652.30 L730.57 652.36 L731.25 652.43 L731.93 652.49 L732.61 652.56 L733.29 652.62 L733.98 652.68 L734.66 652.75 L735.34 652.81 L736.02 652.87 L736.70 652.94 L737.38 653.00 L738.06 653.06 L738.74 653.12 L739.42 653.19 L740.10 653.25 L740.78 653.31 L741.46 653.37 L742.15 653.43 L742.83 653.50 L743.51 653.56 L744.19 653.62 L744.87 653.68 L745.55 653.74 L746.23 653.80 L746.91 653.86 L747.59 653.92 L748.27 653.98 L748.95 654.04 L749.63 654.10 L750.31 654.16 L750.99 654.22 L751.67 654.28 L752.36 654.34 L753.04 654.40 L753.72 654.46 L754.40 654.52 L755.08 654.58 L755.76 654.64 L756.44 654.70 L757.12 654.76 L757.80 654.82 L758.48 654.88 L759.16 654.94 L759.84 655.00 L760.52 655.05 L761.20 655.11 L761.88 655.17 L762.56 655.23 L763.24 655.29 L763.92 655.35 L764.60 655.41 L765.28 655.47 L765.96 655.52 L766.64 655.58 L767.32 655.64 L768.00 655.70 L768.68 655.76 L769.02 655.79" stroke="url(#chk)" stroke-width="4.5"/>
<path d="M89.64 676.00 L90.32 676.00 L91.00 676.00 L91.68 676.00 L92.36 676.00 L93.04 676.00 L93.72 676.00 L94.40 676.00 L95.08 676.00 L95.76 676.00 L96.44 676.00 L97.12 676.00 L97.80 676.00 L98.48 676.00 L99.16 676.00 L99.84 676.00 L100.52 676.00 L101.19 676.00 L101.87 676.00 L102.55 676.00 L103.23 676.00 L103.91 676.00 L104.59 676.00 L105.27 676.00 L105.95 676.00 L106.63 676.00 L107.31 676.00 L107.99 676.00 L108.67 676.00 L109.35 676.00 L110.03 676.00 L110.71 676.00 L111.39 676.00 L112.07 676.00 L112.75 676.00 L113.43 676.00 L114.11 676.00 L114.79 676.00 L115.47 676.00 L116.15 676.00 L116.83 676.00 L117.51 676.00 L118.19 676.00 L118.87 676.00 L119.55 676.00 L120.23 676.00 L120.91 676.00 L121.59 676.00 L122.27 676.00 L122.95 676.00 L123.62 676.00 L124.30 676.00 L124.98 676.00 L125.66 676.00 L126.34 676.00 L127.02 676.00 L127.70 676.00 L128.38 676.00 L129.06 676.00 L129.74 676.00 L130.42 676.00 L131.10 676.00 L131.78 676.00 L132.46 676.00 L133.14 676.00 L133.82 676.00 L134.50 676.00 L135.18 676.00 L135.86 676.00 L136.54 676.00 L137.22 676.00 L137.90 676.00 L138.58 676.00 L139.26 676.00 L139.94 676.00 L140.62 676.00 L141.30 676.00 L141.98 676.00 L142.66 676.00 L143.34 676.00 L144.02 676.00 L144.70 676.00 L145.38 676.00 L146.06 676.00 L146.74 676.00 L147.42 676.00 L148.10 676.00 L148.78 676.00 L149.46 676.00 L150.14 676.00 L150.82 676.00 L151.51 676.00 L152.19 676.00 L152.87 676.00 L153.56 676.00 L154.24 676.00 L154.93 676.00 L155.62 676.00 L156.31 676.00 L157.00 676.00 L157.69 676.00 L158.38 676.00 L159.08 676.00 L159.77 676.00 L160.47 676.00 L161.17 676.00 L161.87 676.00 L162.58 675.89 L163.28 675.66 L163.99 675.42 L164.70 675.16 L165.41 674.88 L166.12 674.57 L166.84 674.25 L167.55 673.90 L168.27 673.53 L168.99 673.14 L169.71 672.72 L170.42 672.28 L171.14 671.81 L171.86 671.32 L172.58 670.80 L173.30 670.25 L174.02 669.67 L174.73 669.07 L175.45 668.44 L176.17 667.79 L177.24 667.46 L177.95 666.72 L178.64 665.96 L179.34 665.17 L180.04 664.35 L180.73 663.50 L181.43 662.63 L182.12 661.74 L182.81 660.81 L183.50 659.86 L184.19 658.88 L184.88 657.88 L185.56 656.84 L186.25 655.78 L186.93 654.70 L187.62 653.59 L188.30 652.45 L188.98 651.29 L189.66 650.10 L190.34 648.89 L191.02 647.65 L191.70 646.39 L192.38 645.10 L193.06 643.79 L193.73 642.46 L194.41 641.11 L195.09 639.73 L195.76 638.33 L196.43 636.91 L197.11 635.46 L197.78 634.00 L198.45 632.52 L199.13 631.01 L199.80 629.49 L200.47 627.95 L201.14 626.40 L201.81 624.82 L202.48 623.23 L203.14 621.63 L203.81 620.00 L204.48 618.37 L205.14 616.72 L205.81 615.05 L206.47 613.38 L207.13 611.69 L207.80 609.99 L208.46 608.28 L209.12 606.56 L209.78 604.82 L210.43 603.08 L211.09 601.34 L211.75 599.58 L212.40 597.82 L213.06 596.05 L213.71 594.27 L214.36 592.49 L215.01 590.71 L215.66 588.92 L216.31 587.13 L216.95 585.34 L217.60 583.54 L218.25 581.74 L218.89 579.95 L219.54 578.15 L220.18 576.35 L220.83 574.56 L221.47 572.76 L222.12 570.97 L222.77 569.19 L223.41 567.40 L224.06 565.62 L224.71 563.85 L225.36 562.08 L226.01 560.31 L226.66 558.56 L227.31 556.81 L227.96 555.06 L228.61 553.33 L229.27 551.60 L229.93 549.89 L230.58 548.18 L231.24 546.48 L231.90 544.79 L232.56 543.11 L233.23 541.45 L233.89 539.79 L234.55 538.14 L235.22 536.51 L235.89 534.89 L236.55 533.28 L237.22 531.69 L237.89 530.10 L238.56 528.54 L239.23 526.98 L239.90 525.44 L240.58 523.91 L241.25 522.40 L241.92 520.90 L242.60 519.42 L243.27 517.95 L243.94 516.49 L244.62 515.06 L245.29 513.63 L245.97 512.23 L246.64 510.83 L247.32 509.46 L247.99 508.10 L248.67 506.76 L249.35 505.43 L250.02 504.12 L250.70 502.83 L251.37 501.55 L252.05 500.29 L252.72 499.05 L253.40 497.82 L254.07 496.61 L254.75 495.42 L255.42 494.24 L256.10 493.09 L256.77 491.94 L257.44 490.82 L258.12 489.71 L258.79 488.62 L259.47 487.55 L260.14 486.50 L260.81 485.46 L261.49 484.44 L262.16 483.44 L262.83 482.45 L263.51 481.48 L264.18 480.53 L264.85 479.60 L265.52 478.68 L266.20 477.78 L266.87 476.90 L267.54 476.03 L268.22 475.18 L268.89 474.35 L269.56 473.54 L270.24 472.74 L270.91 471.96 L271.58 471.19 L272.26 470.45 L272.93 469.71 L273.60 469.00 L274.28 468.30 L274.95 467.62 L275.63 466.96 L276.30 466.31 L276.98 465.67 L277.66 465.06 L278.33 464.45 L279.01 463.87 L279.69 463.30 L280.36 462.75 L281.04 462.21 L281.72 461.69 L282.40 461.18 L283.08 460.69 L283.76 460.21 L284.44 459.75 L285.12 459.30 L285.80 458.87 L286.49 458.46 L287.17 458.06 L287.85 457.67 L288.53 457.30 L289.22 456.94 L289.90 456.59 L290.59 456.26 L291.27 455.95 L291.96 455.65 L292.65 455.36 L293.33 455.09 L294.02 454.82 L294.71 454.58 L295.39 454.34 L296.08 454.12 L296.77 453.92 L297.46 453.72 L298.15 453.54 L298.84 453.37 L299.53 453.22 L300.22 453.07 L300.91 452.94 L301.60 452.82 L302.29 452.72 L302.98 452.62 L303.67 452.54 L304.36 452.47 L305.05 452.41 L305.74 452.36 L306.44 452.32 L307.13 452.29 L307.82 452.28 L308.51 452.28 L309.20 452.28 L309.89 452.30 L310.58 452.33 L311.27 452.37 L311.96 452.41 L312.66 452.47 L313.35 452.54 L314.04 452.62 L314.73 452.70 L315.42 452.80 L316.11 452.91 L316.80 453.02 L317.49 453.15 L318.18 453.28 L318.87 453.42 L319.56 453.58 L320.25 453.74 L320.93 453.90 L321.62 454.08 L322.31 454.27 L323.00 454.46 L323.69 454.66 L324.38 454.87 L325.06 455.08 L325.75 455.31 L326.44 455.54 L327.12 455.78 L327.81 456.02 L328.50 456.28 L329.18 456.54 L329.87 456.81 L330.55 457.08 L331.24 457.36 L331.92 457.65 L332.61 457.94 L333.29 458.24 L333.97 458.55 L334.66 458.86 L335.34 459.18 L336.02 459.50 L336.71 459.84 L337.39 460.17 L338.07 460.51 L338.75 460.86 L339.43 461.22 L340.11 461.57 L340.80 461.94 L341.48 462.31 L342.16 462.68 L342.83 463.06 L343.51 463.45 L344.19 463.83 L344.87 464.23 L345.55 464.63 L346.23 465.03 L346.90 465.44 L347.58 465.85 L348.26 466.27 L348.93 466.69 L349.61 467.11 L350.28 467.54 L350.96 467.98 L351.63 468.41 L352.31 468.85 L352.98 469.30 L353.66 469.75 L354.33 470.20 L355.00 470.65 L355.68 471.11 L356.35 471.57 L357.02 472.04 L357.69 472.50 L358.37 472.97 L359.04 473.45 L359.71 473.92 L360.38 474.40 L361.05 474.88 L361.73 475.37 L362.40 475.85 L363.07 476.34 L363.74 476.83 L364.41 477.32 L365.09 477.81 L365.76 478.31 L366.43 478.81 L367.10 479.31 L367.77 479.81 L368.45 480.31 L369.12 480.81 L369.79 481.32 L370.47 481.82 L371.14 482.33 L371.82 482.84 L372.49 483.35 L373.16 483.86 L373.84 484.38 L374.51 484.89 L375.19 485.40 L375.86 485.92 L376.54 486.44 L377.21 486.95 L377.89 487.47 L378.57 487.99 L379.24 488.51 L379.92 489.03 L380.60 489.55 L381.27 490.07 L381.95 490.60 L382.63 491.12 L383.30 491.64 L383.98 492.17 L384.66 492.69 L385.34 493.22 L386.01 493.75 L386.69 494.27 L387.37 494.80 L388.05 495.33 L388.73 495.85 L389.40 496.38 L390.08 496.91 L390.76 497.44 L391.44 497.97 L392.12 498.49 L392.80 499.02 L393.48 499.55 L394.16 500.08 L394.83 500.61 L395.51 501.14 L396.19 501.67 L396.87 502.20 L397.55 502.73 L398.23 503.26 L398.91 503.79 L399.59 504.32 L400.27 504.85 L400.95 505.37 L401.63 505.90 L402.31 506.43 L402.99 506.96 L403.66 507.49 L404.34 508.02 L405.02 508.54 L405.70 509.07 L406.38 509.60 L407.06 510.12 L407.74 510.65 L408.42 511.17 L409.10 511.70 L409.78 512.22 L410.46 512.75 L411.14 513.27 L411.82 513.80 L412.50 514.32 L413.18 514.84 L413.86 515.36 L414.54 515.88 L415.22 516.40 L415.90 516.92 L416.58 517.44 L417.26 517.96 L417.94 518.48 L418.62 518.99 L419.29 519.51 L419.97 520.03 L420.65 520.54 L421.33 521.06 L422.01 521.57 L422.69 522.08 L423.37 522.59 L424.05 523.10 L424.73 523.61 L425.41 524.12 L426.09 524.63 L426.77 525.14 L427.45 525.64 L428.13 526.15 L428.81 526.65 L429.49 527.16 L430.17 527.66 L430.85 528.16 L431.53 528.66 L432.21 529.16 L432.89 529.66 L433.57 530.16 L434.25 530.66 L434.93 531.15 L435.61 531.65 L436.29 532.14 L436.97 532.63 L437.65 533.12 L438.33 533.61 L439.01 534.10 L439.69 534.59 L440.37 535.08 L441.04 535.56 L441.72 536.05 L442.40 536.53 L443.08 537.01 L443.76 537.50 L444.44 537.98 L445.12 538.46 L445.80 538.93 L446.48 539.41 L447.16 539.89 L447.84 540.36 L448.52 540.83 L449.20 541.30 L449.88 541.78 L450.56 542.25 L451.24 542.71 L451.92 543.18 L452.60 543.65 L453.28 544.11 L453.96 544.57 L454.64 545.04 L455.32 545.50 L456.00 545.96 L456.68 546.42 L457.36 546.87 L458.04 547.33 L458.72 547.78 L459.40 548.24 L460.08 548.69 L460.76 549.14 L461.44 549.59 L462.12 550.04 L462.80 550.48 L463.47 550.93 L464.15 551.37 L464.83 551.82 L465.51 552.26 L466.19 552.70 L466.87 553.14 L467.55 553.58 L468.23 554.01 L468.91 554.45 L469.59 554.88 L470.27 555.31 L470.95 555.74 L471.63 556.17 L472.31 556.60 L472.99 557.03 L473.67 557.46 L474.35 557.88 L475.03 558.30 L475.71 558.73 L476.39 559.15 L477.07 559.57 L477.75 559.98 L478.43 560.40 L479.11 560.82 L479.79 561.23 L480.47 561.64 L481.15 562.05 L481.83 562.46 L482.51 562.87 L483.19 563.28 L483.87 563.69 L484.55 564.09 L485.23 564.49 L485.90 564.90 L486.58 565.30 L487.26 565.70 L487.94 566.10 L488.62 566.49 L489.30 566.89 L489.98 567.28 L490.66 567.67 L491.34 568.07 L492.02 568.46 L492.70 568.85 L493.38 569.23 L494.06 569.62 L494.74 570.00 L495.42 570.39 L496.10 570.77 L496.78 571.15 L497.46 571.53 L498.14 571.91 L498.82 572.29 L499.50 572.66 L500.18 573.04 L500.86 573.41 L501.54 573.78 L502.22 574.15 L502.90 574.52 L503.58 574.89 L504.26 575.26 L504.94 575.62 L505.62 575.99 L506.30 576.35 L506.98 576.71 L507.66 577.07 L508.34 577.43 L509.01 577.79 L509.69 578.14 L510.37 578.50 L511.05 578.85 L511.73 579.21 L512.41 579.56 L513.09 579.91 L513.77 580.26 L514.45 580.60 L515.13 580.95 L515.81 581.30 L516.49 581.64 L517.17 581.98 L517.85 582.32 L518.53 582.67 L519.21 583.00 L519.89 583.34 L520.57 583.68 L521.25 584.01 L521.93 584.35 L522.61 584.68 L523.29 585.01 L523.97 585.34 L524.65 585.67 L525.33 586.00 L526.01 586.33 L526.69 586.65 L527.37 586.98 L528.05 587.30 L528.73 587.62 L529.41 587.94 L530.09 588.26 L530.77 588.58 L531.44 588.90 L532.12 589.21 L532.80 589.53 L533.48 589.84 L534.16 590.16 L534.84 590.47 L535.52 590.78 L536.20 591.09 L536.88 591.39 L537.56 591.70 L538.24 592.01 L538.92 592.31 L539.60 592.62 L540.28 592.92 L540.96 593.22 L541.64 593.52 L542.32 593.82 L543.00 594.12 L543.68 594.41 L544.36 594.71 L545.04 595.00 L545.72 595.30 L546.40 595.59 L547.08 595.88 L547.76 596.17 L548.44 596.46 L549.12 596.75 L549.80 597.03 L550.48 597.32 L551.16 597.60 L551.84 597.89 L552.52 598.17 L553.20 598.45 L553.87 598.73 L554.55 599.01 L555.23 599.29 L555.91 599.56 L556.59 599.84 L557.27 600.11 L557.95 600.39 L558.63 600.66 L559.31 600.93 L559.99 601.20 L560.67 601.47 L561.35 601.74 L562.03 602.01 L562.71 602.28 L563.39 602.54 L564.07 602.81 L564.75 603.07 L565.43 603.33 L566.11 603.60 L566.79 603.86 L567.47 604.12 L568.15 604.38 L568.83 604.63 L569.51 604.89 L570.19 605.15 L570.87 605.40 L571.55 605.65 L572.23 605.91 L572.90 606.16 L573.58 606.41 L574.26 606.66 L574.94 606.91 L575.62 607.16 L576.30 607.41 L576.98 607.65 L577.66 607.90 L578.34 608.14 L579.02 608.39 L579.70 608.63 L580.38 608.87 L581.06 609.11 L581.74 609.35 L582.42 609.59 L583.10 609.83 L583.78 610.07 L584.46 610.30 L585.13 610.54 L585.81 610.78 L586.49 611.01 L587.17 611.24 L587.85 611.48 L588.53 611.71 L589.21 611.94 L589.89 612.17 L590.57 612.40 L591.25 612.63 L591.93 612.86 L592.61 613.08 L593.28 613.31 L593.96 613.53 L594.64 613.76 L595.32 613.98 L596.00 614.21 L596.68 614.43 L597.36 614.65 L598.04 614.87 L598.72 615.09 L599.39 615.31 L600.07 615.53 L600.75 615.75 L601.43 615.97 L602.11 616.18 L602.79 616.40 L603.47 616.62 L604.14 616.83 L604.82 617.05 L605.50 617.26 L606.18 617.47 L606.86 617.68 L607.54 617.89 L608.21 618.11 L608.89 618.32 L609.57 618.52 L610.25 618.73 L610.93 618.94 L611.61 619.15 L612.28 619.35 L612.96 619.56 L613.64 619.77 L614.32 619.97 L615.00 620.17 L615.68 620.38 L616.35 620.58 L617.03 620.78 L617.71 620.98 L618.39 621.18 L619.07 621.38 L619.75 621.58 L620.42 621.77 L621.10 621.97 L621.78 622.17 L622.46 622.36 L623.14 622.56 L623.82 622.75 L624.49 622.94 L625.17 623.13 L625.85 623.33 L626.53 623.52 L627.21 623.71 L627.89 623.89 L628.57 624.08 L629.24 624.27 L629.92 624.46 L630.60 624.64 L631.28 624.83 L631.96 625.01 L632.64 625.19 L633.32 625.38 L634.00 625.56 L634.68 625.74 L635.35 625.92 L636.03 626.10 L636.71 626.28 L637.39 626.45 L638.07 626.63 L638.75 626.81 L639.43 626.98 L640.11 627.16 L640.79 627.33 L641.47 627.50 L642.15 627.67 L642.83 627.85 L643.51 628.02 L644.18 628.19 L644.86 628.36 L645.54 628.52 L646.22 628.69 L646.90 628.86 L647.58 629.02 L648.26 629.19 L648.94 629.35 L649.62 629.52 L650.30 629.68 L650.98 629.84 L651.66 630.01 L652.34 630.17 L653.02 630.33 L653.70 630.49 L654.38 630.65 L655.06 630.80 L655.74 630.96 L656.42 631.12 L657.10 631.27 L657.78 631.43 L658.46 631.59 L659.14 631.74 L659.82 631.89 L660.50 632.05 L661.18 632.20 L661.86 632.35 L662.54 632.50 L663.22 632.65 L663.90 632.80 L664.58 632.95 L665.26 633.10 L665.94 633.24 L666.62 633.39 L667.30 633.54 L667.98 633.68 L668.66 633.83 L669.34 633.97 L670.02 634.11 L670.70 634.26 L671.38 634.40 L672.06 634.54 L672.74 634.68 L673.42 634.82 L674.10 634.96 L674.78 635.10 L675.46 635.24 L676.15 635.38 L676.83 635.51 L677.51 635.65 L678.19 635.79 L678.87 635.92 L679.55 636.06 L680.23 636.19 L680.91 636.32 L681.59 636.46 L682.27 636.59 L682.95 636.72 L683.63 636.85 L684.31 636.98 L684.99 637.11 L685.67 637.24 L686.35 637.37 L687.03 637.49 L687.72 637.62 L688.40 637.75 L689.08 637.87 L689.76 638.00 L690.44 638.12 L691.12 638.25 L691.80 638.37 L692.48 638.49 L693.16 638.61 L693.84 638.73 L694.52 638.86 L695.20 638.98 L695.89 639.10 L696.57 639.21 L697.25 639.33 L697.93 639.45 L698.61 639.57 L699.29 639.68 L699.97 639.80 L700.65 639.91 L701.33 640.03 L702.02 640.14 L702.70 640.26 L703.38 640.37 L704.06 640.48 L704.74 640.59 L705.42 640.70 L706.10 640.81 L706.78 640.92 L707.46 641.03 L708.15 641.14 L708.83 641.25 L709.51 641.36 L710.19 641.46 L710.87 641.57 L711.55 641.67 L712.23 641.78 L712.92 641.88 L713.60 641.99 L714.28 642.09 L714.96 642.19 L715.64 642.30 L716.32 642.40 L717.00 642.50 L717.68 642.60 L718.37 642.70 L719.05 642.80 L719.73 642.90 L720.41 643.00 L721.09 643.10 L721.77 643.19 L722.45 643.29 L723.14 643.39 L723.82 643.48 L724.50 643.58 L725.18 643.67 L725.86 643.77 L726.54 643.86 L727.22 643.96 L727.91 644.05 L728.59 644.15 L729.27 644.24 L729.95 644.33 L730.63 644.42 L731.31 644.52 L731.99 644.61 L732.67 644.70 L733.36 644.79 L734.04 644.88 L734.72 644.97 L735.40 645.06 L736.08 645.15 L736.76 645.24 L737.44 645.33 L738.12 645.42 L738.81 645.50 L739.49 645.59 L740.17 645.68 L740.85 645.77 L741.53 645.85 L742.21 645.94 L742.89 646.03 L743.57 646.11 L744.25 646.20 L744.93 646.29 L745.61 646.37 L746.30 646.46 L746.98 646.54 L747.66 646.63 L748.34 646.71 L749.02 646.80 L749.70 646.88 L750.38 646.97 L751.06 647.05 L751.74 647.13 L752.42 647.22 L753.10 647.30 L753.78 647.39 L754.46 647.47 L755.14 647.55 L755.82 647.63 L756.50 647.72 L757.18 647.80 L757.87 647.88 L758.55 647.96 L759.23 648.05 L759.91 648.13 L760.59 648.21 L761.27 648.29 L761.95 648.37 L762.63 648.45 L763.31 648.54 L763.99 648.62 L764.67 648.70 L765.35 648.78 L766.03 648.86 L766.71 648.94 L767.39 649.02 L768.07 649.10 L768.75 649.18 L769.09 649.22" stroke="#000" stroke-width="4.3" stroke-dasharray="11.5 5.6" stroke-dashoffset="8.15"/>
<path d="M89.64 676.00 L90.32 676.00 L91.00 676.00 L91.68 676.00 L92.36 676.00 L93.04 676.00 L93.72 676.00 L94.40 676.00 L95.08 676.00 L95.76 676.00 L96.44 676.00 L97.12 676.00 L97.80 676.00 L98.48 676.00 L99.16 676.00 L99.84 676.00 L100.52 676.00 L101.19 676.00 L101.87 676.00 L102.55 676.00 L103.23 676.00 L103.91 676.00 L104.59 676.00 L105.27 676.00 L105.95 676.00 L106.63 676.00 L107.31 676.00 L107.99 676.00 L108.67 676.00 L109.35 676.00 L110.03 676.00 L110.71 676.00 L111.39 676.00 L112.07 676.00 L112.75 676.00 L113.43 676.00 L114.11 676.00 L114.79 676.00 L115.47 676.00 L116.15 676.00 L116.83 676.00 L117.51 676.00 L118.19 676.00 L118.87 676.00 L119.55 676.00 L120.23 676.00 L120.91 676.00 L121.59 676.00 L122.27 676.00 L122.95 676.00 L123.62 676.00 L124.30 676.00 L124.98 676.00 L125.66 676.00 L126.34 676.00 L127.02 676.00 L127.70 676.00 L128.38 676.00 L129.06 676.00 L129.74 676.00 L130.42 676.00 L131.10 676.00 L131.78 676.00 L132.46 676.00 L133.14 676.00 L133.82 676.00 L134.50 676.00 L135.18 676.00 L135.86 676.00 L136.54 676.00 L137.22 676.00 L137.90 676.00 L138.58 676.00 L139.26 676.00 L139.94 676.00 L140.62 676.00 L141.30 676.00 L141.98 676.00 L142.66 676.00 L143.35 676.00 L144.03 676.00 L144.71 676.00 L145.40 676.00 L146.08 676.00 L146.77 676.00 L147.46 676.00 L148.15 676.00 L148.84 676.00 L149.53 676.00 L150.23 676.00 L150.92 676.00 L151.62 675.73 L152.32 675.43 L153.02 675.10 L153.72 674.74 L154.43 674.35 L155.13 673.93 L155.84 673.46 L156.54 672.96 L157.25 672.42 L157.95 671.84 L158.66 671.21 L159.36 670.54 L160.07 669.83 L160.77 669.06 L161.47 668.25 L162.17 667.40 L162.87 666.49 L163.57 665.53 L164.27 664.52 L164.96 663.46 L165.66 662.35 L166.35 661.18 L167.13 660.00 L167.83 658.72 L168.52 657.39 L169.22 656.01 L169.93 654.56 L170.63 653.06 L171.33 651.51 L172.03 649.90 L172.74 648.23 L173.44 646.50 L174.15 644.72 L174.86 642.88 L175.57 640.99 L176.28 639.04 L177.00 637.03 L177.71 634.97 L178.43 632.85 L179.15 630.68 L179.87 628.46 L180.59 626.18 L181.32 623.85 L182.04 621.47 L182.77 619.04 L183.50 616.56 L184.23 614.03 L184.97 611.46 L185.70 608.84 L186.43 606.17 L187.17 603.47 L187.91 600.71 L188.64 597.92 L189.38 595.09 L190.12 592.22 L190.85 589.31 L191.59 586.36 L192.32 583.39 L193.06 580.37 L193.79 577.33 L194.52 574.26 L195.24 571.15 L195.96 568.02 L196.67 564.86 L197.38 561.68 L198.09 558.48 L198.78 555.25 L199.47 552.00 L200.15 548.74 L200.83 545.45 L201.49 542.15 L202.15 538.84 L202.80 535.51 L203.44 532.18 L204.08 528.83 L204.70 525.47 L205.33 522.11 L205.94 518.75 L206.56 515.38 L207.17 512.00 L207.78 508.63 L208.39 505.26 L208.99 501.89 L209.60 498.53 L210.21 495.18 L210.83 491.83 L211.44 488.48 L212.05 485.15 L212.67 481.83 L213.28 478.52 L213.90 475.22 L214.51 471.94 L215.12 468.67 L215.72 465.42 L216.33 462.18 L216.92 458.96 L217.52 455.76 L218.10 452.57 L218.69 449.41 L219.27 446.27 L219.86 443.14 L220.44 440.05 L221.04 436.98 L221.64 433.93 L222.24 430.91 L222.86 427.93 L223.49 424.97 L224.13 422.04 L224.78 419.14 L225.44 416.27 L226.11 413.44 L226.78 410.63 L227.47 407.86 L228.16 405.12 L228.85 402.42 L229.55 399.75 L230.25 397.11 L230.95 394.50 L231.65 391.93 L232.36 389.40 L233.07 386.89 L233.77 384.43 L234.48 381.99 L235.18 379.60 L235.89 377.23 L236.59 374.91 L237.29 372.62 L237.99 370.36 L238.68 368.14 L239.38 365.95 L240.07 363.81 L240.76 361.69 L241.45 359.62 L242.14 357.57 L242.82 355.57 L243.51 353.60 L244.19 351.67 L244.87 349.77 L245.55 347.91 L246.22 346.09 L246.90 344.30 L247.57 342.55 L248.24 340.83 L248.91 339.15 L249.58 337.50 L250.25 335.89 L250.91 334.32 L251.58 332.78 L252.24 331.28 L252.91 329.81 L253.57 328.38 L254.24 326.98 L254.90 325.62 L255.56 324.29 L256.23 322.99 L256.89 321.73 L257.55 320.51 L258.21 319.32 L258.88 318.16 L259.54 317.03 L260.20 315.94 L260.87 314.88 L261.53 313.85 L262.20 312.86 L262.86 311.90 L263.53 310.97 L264.20 310.07 L264.87 309.20 L265.54 308.37 L266.21 307.56 L266.88 306.79 L267.55 306.05 L268.22 305.33 L268.89 304.65 L269.57 304.00 L270.24 303.37 L270.92 302.78 L271.60 302.21 L272.28 301.67 L272.96 301.16 L273.64 300.68 L274.32 300.22 L275.00 299.80 L275.69 299.40 L276.37 299.02 L277.06 298.68 L277.75 298.36 L278.44 298.06 L279.13 297.79 L279.82 297.55 L280.51 297.33 L281.20 297.14 L281.89 296.97 L282.59 296.83 L283.28 296.71 L283.98 296.62 L284.68 296.55 L285.37 296.50 L286.07 296.47 L286.77 296.47 L287.46 296.49 L288.16 296.53 L288.86 296.60 L289.55 296.68 L290.25 296.79 L290.95 296.91 L291.64 297.06 L292.34 297.23 L293.04 297.42 L293.73 297.62 L294.43 297.85 L295.12 298.09 L295.82 298.35 L296.51 298.64 L297.21 298.93 L297.90 299.25 L298.60 299.58 L299.29 299.93 L299.98 300.30 L300.67 300.68 L301.36 301.08 L302.06 301.50 L302.75 301.93 L303.44 302.37 L304.13 302.83 L304.82 303.31 L305.51 303.80 L306.19 304.30 L306.88 304.82 L307.57 305.35 L308.26 305.89 L308.95 306.45 L309.63 307.01 L310.32 307.60 L311.00 308.19 L311.69 308.80 L312.38 309.42 L313.06 310.04 L313.74 310.69 L314.43 311.34 L315.11 312.00 L315.80 312.67 L316.48 313.36 L317.16 314.05 L317.84 314.76 L318.53 315.47 L319.21 316.19 L319.89 316.93 L320.57 317.67 L321.25 318.42 L321.93 319.18 L322.61 319.95 L323.29 320.73 L323.97 321.51 L324.65 322.30 L325.32 323.11 L326.00 323.91 L326.68 324.73 L327.36 325.55 L328.03 326.38 L328.71 327.22 L329.39 328.06 L330.06 328.91 L330.74 329.77 L331.41 330.63 L332.09 331.50 L332.77 332.38 L333.44 333.26 L334.12 334.14 L334.79 335.03 L335.46 335.93 L336.14 336.83 L336.81 337.73 L337.49 338.64 L338.16 339.56 L338.84 340.48 L339.51 341.40 L340.19 342.33 L340.86 343.26 L341.53 344.19 L342.21 345.13 L342.88 346.07 L343.56 347.02 L344.23 347.97 L344.91 348.92 L345.58 349.87 L346.26 350.83 L346.93 351.79 L347.61 352.75 L348.28 353.72 L348.96 354.69 L349.63 355.66 L350.31 356.63 L350.99 357.60 L351.66 358.58 L352.34 359.55 L353.02 360.53 L353.69 361.51 L354.37 362.50 L355.05 363.48 L355.73 364.46 L356.40 365.45 L357.08 366.44 L357.76 367.43 L358.44 368.42 L359.12 369.41 L359.80 370.40 L360.47 371.39 L361.15 372.38 L361.83 373.37 L362.51 374.37 L363.19 375.36 L363.87 376.36 L364.55 377.35 L365.23 378.34 L365.91 379.34 L366.59 380.33 L367.26 381.33 L367.94 382.32 L368.62 383.32 L369.30 384.31 L369.98 385.31 L370.66 386.30 L371.34 387.30 L372.02 388.29 L372.70 389.29 L373.37 390.28 L374.05 391.27 L374.73 392.26 L375.41 393.25 L376.09 394.24 L376.76 395.23 L377.44 396.22 L378.12 397.21 L378.80 398.20 L379.47 399.19 L380.15 400.17 L380.83 401.16 L381.50 402.14 L382.18 403.12 L382.85 404.10 L383.53 405.08 L384.20 406.06 L384.88 407.04 L385.55 408.02 L386.23 408.99 L386.90 409.97 L387.58 410.94 L388.25 411.91 L388.92 412.88 L389.60 413.85 L390.27 414.82 L390.94 415.78 L391.61 416.75 L392.28 417.71 L392.96 418.67 L393.63 419.63 L394.30 420.59 L394.97 421.54 L395.64 422.50 L396.31 423.45 L396.98 424.40 L397.65 425.35 L398.32 426.30 L398.99 427.24 L399.65 428.19 L400.32 429.13 L400.99 430.07 L401.66 431.00 L402.33 431.94 L403.00 432.87 L403.66 433.80 L404.33 434.73 L405.00 435.66 L405.66 436.58 L406.33 437.50 L407.00 438.42 L407.67 439.34 L408.33 440.26 L409.00 441.17 L409.67 442.08 L410.33 442.99 L411.00 443.89 L411.67 444.80 L412.34 445.70 L413.00 446.59 L413.67 447.49 L414.34 448.38 L415.01 449.27 L415.67 450.16 L416.34 451.05 L417.01 451.93 L417.68 452.81 L418.35 453.68 L419.02 454.56 L419.69 455.43 L420.36 456.30 L421.03 457.16 L421.70 458.03 L422.37 458.89 L423.04 459.75 L423.71 460.60 L424.38 461.45 L425.05 462.30 L425.72 463.15 L426.39 463.99 L427.07 464.83 L427.74 465.67 L428.41 466.50 L429.09 467.33 L429.76 468.16 L430.43 468.98 L431.11 469.81 L431.78 470.63 L432.46 471.44 L433.13 472.26 L433.81 473.07 L434.48 473.88 L435.16 474.68 L435.83 475.48 L436.51 476.28 L437.18 477.08 L437.86 477.87 L438.53 478.67 L439.21 479.45 L439.88 480.24 L440.56 481.02 L441.24 481.80 L441.91 482.58 L442.59 483.36 L443.26 484.13 L443.94 484.90 L444.61 485.66 L445.29 486.43 L445.97 487.19 L446.64 487.95 L447.32 488.70 L447.99 489.46 L448.67 490.21 L449.34 490.96 L450.02 491.70 L450.69 492.45 L451.36 493.19 L452.04 493.92 L452.71 494.66 L453.39 495.39 L454.06 496.12 L454.73 496.85 L455.40 497.58 L456.08 498.30 L456.75 499.02 L457.42 499.74 L458.09 500.46 L458.76 501.17 L459.44 501.88 L460.11 502.59 L460.78 503.30 L461.45 504.00 L462.12 504.70 L462.79 505.40 L463.46 506.10 L464.13 506.80 L464.80 507.49 L465.47 508.18 L466.14 508.86 L466.81 509.55 L467.48 510.23 L468.15 510.91 L468.82 511.59 L469.49 512.26 L470.16 512.93 L470.83 513.60 L471.50 514.27 L472.17 514.93 L472.84 515.59 L473.51 516.25 L474.18 516.90 L474.85 517.56 L475.52 518.21 L476.20 518.85 L476.87 519.50 L477.54 520.14 L478.21 520.78 L478.89 521.42 L479.56 522.05 L480.23 522.68 L480.90 523.31 L481.58 523.93 L482.25 524.56 L482.93 525.17 L483.60 525.79 L484.28 526.41 L484.95 527.02 L485.63 527.63 L486.30 528.23 L486.98 528.84 L487.65 529.44 L488.33 530.04 L489.01 530.63 L489.68 531.22 L490.36 531.81 L491.04 532.40 L491.72 532.99 L492.39 533.57 L493.07 534.15 L493.75 534.73 L494.43 535.30 L495.11 535.87 L495.78 536.44 L496.46 537.01 L497.14 537.58 L497.82 538.14 L498.50 538.70 L499.18 539.26 L499.86 539.81 L500.54 540.37 L501.22 540.92 L501.89 541.46 L502.57 542.01 L503.25 542.55 L503.93 543.09 L504.61 543.63 L505.29 544.17 L505.97 544.70 L506.65 545.23 L507.33 545.76 L508.01 546.29 L508.69 546.81 L509.37 547.34 L510.06 547.86 L510.74 548.38 L511.42 548.89 L512.10 549.40 L512.78 549.92 L513.46 550.42 L514.14 550.93 L514.82 551.44 L515.50 551.94 L516.18 552.44 L516.86 552.94 L517.54 553.43 L518.22 553.93 L518.91 554.42 L519.59 554.91 L520.27 555.40 L520.95 555.88 L521.63 556.36 L522.31 556.85 L522.99 557.32 L523.67 557.80 L524.36 558.28 L525.04 558.75 L525.72 559.22 L526.40 559.69 L527.08 560.16 L527.76 560.62 L528.44 561.08 L529.13 561.54 L529.81 562.00 L530.49 562.46 L531.17 562.91 L531.85 563.36 L532.54 563.82 L533.22 564.26 L533.90 564.71 L534.58 565.15 L535.26 565.60 L535.95 566.04 L536.63 566.48 L537.31 566.91 L537.99 567.35 L538.67 567.78 L539.36 568.21 L540.04 568.64 L540.72 569.07 L541.40 569.49 L542.09 569.92 L542.77 570.34 L543.45 570.76 L544.13 571.18 L544.82 571.59 L545.50 572.01 L546.18 572.42 L546.87 572.83 L547.55 573.24 L548.23 573.64 L548.91 574.05 L549.60 574.45 L550.28 574.85 L550.96 575.25 L551.65 575.65 L552.33 576.04 L553.01 576.44 L553.70 576.83 L554.38 577.22 L555.06 577.60 L555.75 577.99 L556.43 578.38 L557.11 578.76 L557.80 579.14 L558.48 579.52 L559.17 579.90 L559.85 580.27 L560.53 580.64 L561.22 581.02 L561.90 581.39 L562.59 581.75 L563.27 582.12 L563.95 582.49 L564.64 582.85 L565.32 583.21 L566.01 583.57 L566.69 583.93 L567.38 584.28 L568.06 584.64 L568.75 584.99 L569.43 585.34 L570.12 585.69 L570.80 586.03 L571.49 586.38 L572.17 586.72 L572.86 587.06 L573.55 587.40 L574.23 587.74 L574.92 588.08 L575.60 588.41 L576.29 588.74 L576.98 589.08 L577.66 589.40 L578.35 589.73 L579.04 590.06 L579.72 590.38 L580.41 590.70 L581.10 591.02 L581.79 591.34 L582.47 591.65 L583.16 591.97 L583.85 592.28 L584.54 592.59 L585.23 592.90 L585.91 593.21 L586.60 593.51 L587.29 593.82 L587.98 594.12 L588.67 594.42 L589.36 594.72 L590.05 595.01 L590.74 595.31 L591.43 595.60 L592.11 595.89 L592.80 596.18 L593.49 596.47 L594.18 596.75 L594.87 597.04 L595.56 597.32 L596.25 597.60 L596.94 597.88 L597.63 598.16 L598.32 598.44 L599.01 598.71 L599.70 598.98 L600.39 599.26 L601.08 599.53 L601.77 599.80 L602.46 600.07 L603.15 600.34 L603.84 600.60 L604.53 600.87 L605.22 601.14 L605.90 601.40 L606.59 601.67 L607.28 601.93 L607.97 602.19 L608.66 602.45 L609.34 602.72 L610.03 602.98 L610.72 603.24 L611.40 603.50 L612.09 603.76 L612.77 604.02 L613.46 604.28 L614.14 604.54 L614.82 604.80 L615.51 605.05 L616.19 605.31 L616.87 605.57 L617.56 605.83 L618.24 606.09 L618.92 606.34 L619.60 606.60 L620.28 606.86 L620.96 607.12 L621.64 607.37 L622.32 607.63 L623.00 607.88 L623.68 608.14 L624.36 608.39 L625.04 608.65 L625.72 608.90 L626.40 609.15 L627.08 609.40 L627.76 609.66 L628.44 609.91 L629.12 610.16 L629.80 610.40 L630.47 610.65 L631.15 610.90 L631.83 611.15 L632.51 611.39 L633.19 611.64 L633.87 611.88 L634.55 612.12 L635.22 612.36 L635.90 612.60 L636.58 612.84 L637.26 613.08 L637.94 613.32 L638.62 613.56 L639.30 613.79 L639.97 614.03 L640.65 614.26 L641.33 614.49 L642.01 614.72 L642.69 614.95 L643.37 615.18 L644.05 615.41 L644.73 615.64 L645.41 615.86 L646.08 616.09 L646.76 616.31 L647.44 616.54 L648.12 616.76 L648.80 616.98 L649.48 617.20 L650.16 617.42 L650.84 617.64 L651.52 617.85 L652.20 618.07 L652.88 618.28 L653.56 618.50 L654.24 618.71 L654.92 618.92 L655.60 619.13 L656.28 619.34 L656.96 619.55 L657.64 619.76 L658.32 619.96 L659.00 620.17 L659.68 620.38 L660.36 620.58 L661.04 620.78 L661.72 620.98 L662.40 621.18 L663.08 621.39 L663.76 621.58 L664.44 621.78 L665.12 621.98 L665.80 622.18 L666.48 622.37 L667.16 622.57 L667.84 622.76 L668.52 622.95 L669.20 623.14 L669.88 623.34 L670.56 623.53 L671.24 623.71 L671.92 623.90 L672.61 624.09 L673.29 624.28 L673.97 624.46 L674.65 624.65 L675.33 624.83 L676.01 625.01 L676.69 625.20 L677.37 625.38 L678.05 625.56 L678.73 625.74 L679.41 625.91 L680.09 626.09 L680.78 626.27 L681.46 626.44 L682.14 626.62 L682.82 626.79 L683.50 626.97 L684.18 627.14 L684.86 627.31 L685.54 627.48 L686.22 627.65 L686.91 627.82 L687.59 627.99 L688.27 628.16 L688.95 628.32 L689.63 628.49 L690.31 628.65 L690.99 628.82 L691.68 628.98 L692.36 629.14 L693.04 629.30 L693.72 629.46 L694.40 629.62 L695.08 629.78 L695.77 629.94 L696.45 630.10 L697.13 630.25 L697.81 630.41 L698.49 630.56 L699.17 630.72 L699.86 630.87 L700.54 631.02 L701.22 631.17 L701.90 631.32 L702.58 631.47 L703.27 631.62 L703.95 631.77 L704.63 631.91 L705.31 632.06 L706.00 632.20 L706.68 632.35 L707.36 632.49 L708.04 632.63 L708.73 632.78 L709.41 632.92 L710.09 633.06 L710.77 633.20 L711.46 633.33 L712.14 633.47 L712.82 633.61 L713.50 633.74 L714.19 633.88 L714.87 634.01 L715.55 634.14 L716.23 634.28 L716.92 634.41 L717.60 634.54 L718.28 634.67 L718.97 634.80 L719.65 634.93 L720.33 635.05 L721.01 635.18 L721.70 635.31 L722.38 635.43 L723.06 635.56 L723.75 635.68 L724.43 635.80 L725.11 635.93 L725.79 636.05 L726.48 636.17 L727.16 636.29 L727.84 636.41 L728.53 636.53 L729.21 636.65 L729.89 636.77 L730.58 636.88 L731.26 637.00 L731.94 637.12 L732.62 637.23 L733.31 637.35 L733.99 637.46 L734.67 637.58 L735.36 637.69 L736.04 637.81 L736.72 637.92 L737.40 638.03 L738.09 638.14 L738.77 638.25 L739.45 638.37 L740.13 638.48 L740.82 638.59 L741.50 638.70 L742.18 638.81 L742.86 638.92 L743.55 639.03 L744.23 639.13 L744.91 639.24 L745.59 639.35 L746.27 639.46 L746.96 639.57 L747.64 639.67 L748.32 639.78 L749.00 639.89 L749.68 639.99 L750.37 640.10 L751.05 640.21 L751.73 640.31 L752.41 640.42 L753.09 640.52 L753.77 640.63 L754.46 640.73 L755.14 640.84 L755.82 640.94 L756.50 641.05 L757.18 641.15 L757.86 641.26 L758.54 641.36 L759.22 641.46 L759.91 641.57 L760.59 641.67 L761.27 641.77 L761.95 641.88 L762.63 641.98 L763.31 642.08 L763.99 642.18 L764.67 642.28 L765.35 642.39 L766.03 642.49 L766.71 642.59 L767.39 642.69 L768.07 642.79 L768.75 642.89 L769.09 642.94" stroke="#000" stroke-width="5.4"/>
<path d="M89.64 676.00 L90.32 676.00 L91.00 676.00 L91.68 676.00 L92.36 676.00 L93.04 676.00 L93.72 676.00 L94.40 676.00 L95.08 676.00 L95.76 676.00 L96.44 676.00 L97.12 676.00 L97.80 676.00 L98.48 676.00 L99.16 676.00 L99.84 676.00 L100.52 676.00 L101.19 676.00 L101.87 676.00 L102.55 676.00 L103.23 676.00 L103.91 676.00 L104.59 676.00 L105.27 676.00 L105.95 676.00 L106.63 676.00 L107.31 676.00 L107.99 676.00 L108.67 676.00 L109.35 676.00 L110.03 676.00 L110.71 676.00 L111.39 676.00 L112.07 676.00 L112.75 676.00 L113.43 676.00 L114.11 676.00 L114.79 676.00 L115.47 676.00 L116.15 676.00 L116.83 676.00 L117.51 676.00 L118.19 676.00 L118.87 676.00 L119.55 676.00 L120.23 676.00 L120.91 676.00 L121.59 676.00 L122.27 676.00 L122.95 676.00 L123.62 676.00 L124.30 676.00 L124.98 676.00 L125.66 676.00 L126.34 676.00 L127.02 676.00 L127.70 676.00 L128.38 676.00 L129.06 676.00 L129.74 676.00 L130.42 676.00 L131.10 676.00 L131.78 676.00 L132.46 676.00 L133.14 676.00 L133.82 676.00 L134.50 676.00 L135.18 676.00 L135.86 676.00 L136.54 676.00 L137.22 676.00 L137.90 676.00 L138.58 676.00 L139.26 676.00 L139.94 676.00 L140.62 676.00 L141.30 676.00 L141.98 676.00 L142.66 676.00 L143.35 676.00 L144.03 676.00 L144.71 676.00 L145.40 676.00 L146.08 676.00 L146.77 676.00 L147.46 676.00 L148.15 676.00 L148.84 676.00 L149.53 676.00 L150.23 676.00 L150.92 676.00 L151.62 675.73 L152.32 675.43 L153.02 675.10 L153.72 674.74 L154.43 674.35 L155.13 673.93 L155.84 673.46 L156.54 672.96 L157.25 672.42 L157.95 671.84 L158.66 671.21 L159.36 670.54 L160.07 669.83 L160.77 669.06 L161.47 668.25 L162.17 667.40 L162.87 666.49 L163.57 665.53 L164.27 664.52 L164.96 663.46 L165.66 662.35 L166.35 661.18 L167.13 660.00 L167.83 658.72 L168.52 657.39 L169.22 656.01 L169.93 654.56 L170.63 653.06 L171.33 651.51 L172.03 649.90 L172.74 648.23 L173.44 646.50 L174.15 644.72 L174.86 642.88 L175.57 640.99 L176.28 639.04 L177.00 637.03 L177.71 634.97 L178.43 632.85 L179.15 630.68 L179.87 628.46 L180.59 626.18 L181.32 623.85 L182.04 621.47 L182.77 619.04 L183.50 616.56 L184.23 614.03 L184.97 611.46 L185.70 608.84 L186.43 606.17 L187.17 603.47 L187.91 600.71 L188.64 597.92 L189.38 595.09 L190.12 592.22 L190.85 589.31 L191.59 586.36 L192.32 583.39 L193.06 580.37 L193.79 577.33 L194.52 574.26 L195.24 571.15 L195.96 568.02 L196.67 564.86 L197.38 561.68 L198.09 558.48 L198.78 555.25 L199.47 552.00 L200.15 548.74 L200.83 545.45 L201.49 542.15 L202.15 538.84 L202.80 535.51 L203.44 532.18 L204.08 528.83 L204.70 525.47 L205.33 522.11 L205.94 518.75 L206.56 515.38 L207.17 512.00 L207.78 508.63 L208.39 505.26 L208.99 501.89 L209.60 498.53 L210.21 495.18 L210.83 491.83 L211.44 488.48 L212.05 485.15 L212.67 481.83 L213.28 478.52 L213.90 475.22 L214.51 471.94 L215.12 468.67 L215.72 465.42 L216.33 462.18 L216.92 458.96 L217.52 455.76 L218.10 452.57 L218.69 449.41 L219.27 446.27 L219.86 443.14 L220.44 440.05 L221.04 436.98 L221.64 433.93 L222.24 430.91 L222.86 427.93 L223.49 424.97 L224.13 422.04 L224.78 419.14 L225.44 416.27 L226.11 413.44 L226.78 410.63 L227.47 407.86 L228.16 405.12 L228.85 402.42 L229.55 399.75 L230.25 397.11 L230.95 394.50 L231.65 391.93 L232.36 389.40 L233.07 386.89 L233.77 384.43 L234.48 381.99 L235.18 379.60 L235.89 377.23 L236.59 374.91 L237.29 372.62 L237.99 370.36 L238.68 368.14 L239.38 365.95 L240.07 363.81 L240.76 361.69 L241.45 359.62 L242.14 357.57 L242.82 355.57 L243.51 353.60 L244.19 351.67 L244.87 349.77 L245.55 347.91 L246.22 346.09 L246.90 344.30 L247.57 342.55 L248.24 340.83 L248.91 339.15 L249.58 337.50 L250.25 335.89 L250.91 334.32 L251.58 332.78 L252.24 331.28 L252.91 329.81 L253.57 328.38 L254.24 326.98 L254.90 325.62 L255.56 324.29 L256.23 322.99 L256.89 321.73 L257.55 320.51 L258.21 319.32 L258.88 318.16 L259.54 317.03 L260.20 315.94 L260.87 314.88 L261.53 313.85 L262.20 312.86 L262.86 311.90 L263.53 310.97 L264.20 310.07 L264.87 309.20 L265.54 308.37 L266.21 307.56 L266.88 306.79 L267.55 306.05 L268.22 305.33 L268.89 304.65 L269.57 304.00 L270.24 303.37 L270.92 302.78 L271.60 302.21 L272.28 301.67 L272.96 301.16 L273.64 300.68 L274.32 300.22 L275.00 299.80 L275.69 299.40 L276.37 299.02 L277.06 298.68 L277.75 298.36 L278.44 298.06 L279.13 297.79 L279.82 297.55 L280.51 297.33 L281.20 297.14 L281.89 296.97 L282.59 296.83 L283.28 296.71 L283.98 296.62 L284.68 296.55 L285.37 296.50 L286.07 296.47 L286.77 296.47 L287.46 296.49 L288.16 296.53 L288.86 296.60 L289.55 296.68 L290.25 296.79 L290.95 296.91 L291.64 297.06 L292.34 297.23 L293.04 297.42 L293.73 297.62 L294.43 297.85 L295.12 298.09 L295.82 298.35 L296.51 298.64 L297.21 298.93 L297.90 299.25 L298.60 299.58 L299.29 299.93 L299.98 300.30 L300.67 300.68 L301.36 301.08 L302.06 301.50 L302.75 301.93 L303.44 302.37 L304.13 302.83 L304.82 303.31 L305.51 303.80 L306.19 304.30 L306.88 304.82 L307.57 305.35 L308.26 305.89 L308.95 306.45 L309.63 307.01 L310.32 307.60 L311.00 308.19 L311.69 308.80 L312.38 309.42 L313.06 310.04 L313.74 310.69 L314.43 311.34 L315.11 312.00 L315.80 312.67 L316.48 313.36 L317.16 314.05 L317.84 314.76 L318.53 315.47 L319.21 316.19 L319.89 316.93 L320.57 317.67 L321.25 318.42 L321.93 319.18 L322.61 319.95 L323.29 320.73 L323.97 321.51 L324.65 322.30 L325.32 323.11 L326.00 323.91 L326.68 324.73 L327.36 325.55 L328.03 326.38 L328.71 327.22 L329.39 328.06 L330.06 328.91 L330.74 329.77 L331.41 330.63 L332.09 331.50 L332.77 332.38 L333.44 333.26 L334.12 334.14 L334.79 335.03 L335.46 335.93 L336.14 336.83 L336.81 337.73 L337.49 338.64 L338.16 339.56 L338.84 340.48 L339.51 341.40 L340.19 342.33 L340.86 343.26 L341.53 344.19 L342.21 345.13 L342.88 346.07 L343.56 347.02 L344.23 347.97 L344.91 348.92 L345.58 349.87 L346.26 350.83 L346.93 351.79 L347.61 352.75 L348.28 353.72 L348.96 354.69 L349.63 355.66 L350.31 356.63 L350.99 357.60 L351.66 358.58 L352.34 359.55 L353.02 360.53 L353.69 361.51 L354.37 362.50 L355.05 363.48 L355.73 364.46 L356.40 365.45 L357.08 366.44 L357.76 367.43 L358.44 368.42 L359.12 369.41 L359.80 370.40 L360.47 371.39 L361.15 372.38 L361.83 373.37 L362.51 374.37 L363.19 375.36 L363.87 376.36 L364.55 377.35 L365.23 378.34 L365.91 379.34 L366.59 380.33 L367.26 381.33 L367.94 382.32 L368.62 383.32 L369.30 384.31 L369.98 385.31 L370.66 386.30 L371.34 387.30 L372.02 388.29 L372.70 389.29 L373.37 390.28 L374.05 391.27 L374.73 392.26 L375.41 393.25 L376.09 394.24 L376.76 395.23 L377.44 396.22 L378.12 397.21 L378.80 398.20 L379.47 399.19 L380.15 400.17 L380.83 401.16 L381.50 402.14 L382.18 403.12 L382.85 404.10 L383.53 405.08 L384.20 406.06 L384.88 407.04 L385.55 408.02 L386.23 408.99 L386.90 409.97 L387.58 410.94 L388.25 411.91 L388.92 412.88 L389.60 413.85 L390.27 414.82 L390.94 415.78 L391.61 416.75 L392.28 417.71 L392.96 418.67 L393.63 419.63 L394.30 420.59 L394.97 421.54 L395.64 422.50 L396.31 423.45 L396.98 424.40 L397.65 425.35 L398.32 426.30 L398.99 427.24 L399.65 428.19 L400.32 429.13 L400.99 430.07 L401.66 431.00 L402.33 431.94 L403.00 432.87 L403.66 433.80 L404.33 434.73 L405.00 435.66 L405.66 436.58 L406.33 437.50 L407.00 438.42 L407.67 439.34 L408.33 440.26 L409.00 441.17 L409.67 442.08 L410.33 442.99 L411.00 443.89 L411.67 444.80 L412.34 445.70 L413.00 446.59 L413.67 447.49 L414.34 448.38 L415.01 449.27 L415.67 450.16 L416.34 451.05 L417.01 451.93 L417.68 452.81 L418.35 453.68 L419.02 454.56 L419.69 455.43 L420.36 456.30 L421.03 457.16 L421.70 458.03 L422.37 458.89 L423.04 459.75 L423.71 460.60 L424.38 461.45 L425.05 462.30 L425.72 463.15 L426.39 463.99 L427.07 464.83 L427.74 465.67 L428.41 466.50 L429.09 467.33 L429.76 468.16 L430.43 468.98 L431.11 469.81 L431.78 470.63 L432.46 471.44 L433.13 472.26 L433.81 473.07 L434.48 473.88 L435.16 474.68 L435.83 475.48 L436.51 476.28 L437.18 477.08 L437.86 477.87 L438.53 478.67 L439.21 479.45 L439.88 480.24 L440.56 481.02 L441.24 481.80 L441.91 482.58 L442.59 483.36 L443.26 484.13 L443.94 484.90 L444.61 485.66 L445.29 486.43 L445.97 487.19 L446.64 487.95 L447.32 488.70 L447.99 489.46 L448.67 490.21 L449.34 490.96 L450.02 491.70 L450.69 492.45 L451.36 493.19 L452.04 493.92 L452.71 494.66 L453.39 495.39 L454.06 496.12 L454.73 496.85 L455.40 497.58 L456.08 498.30 L456.75 499.02 L457.42 499.74 L458.09 500.46 L458.76 501.17 L459.44 501.88 L460.11 502.59 L460.78 503.30 L461.45 504.00 L462.12 504.70 L462.79 505.40 L463.46 506.10 L464.13 506.80 L464.80 507.49 L465.47 508.18 L466.14 508.86 L466.81 509.55 L467.48 510.23 L468.15 510.91 L468.82 511.59 L469.49 512.26 L470.16 512.93 L470.83 513.60 L471.50 514.27 L472.17 514.93 L472.84 515.59 L473.51 516.25 L474.18 516.90 L474.85 517.56 L475.52 518.21 L476.20 518.85 L476.87 519.50 L477.54 520.14 L478.21 520.78 L478.89 521.42 L479.56 522.05 L480.23 522.68 L480.90 523.31 L481.58 523.93 L482.25 524.56 L482.93 525.17 L483.60 525.79 L484.28 526.41 L484.95 527.02 L485.63 527.63 L486.30 528.23 L486.98 528.84 L487.65 529.44 L488.33 530.04 L489.01 530.63 L489.68 531.22 L490.36 531.81 L491.04 532.40 L491.72 532.99 L492.39 533.57 L493.07 534.15 L493.75 534.73 L494.43 535.30 L495.11 535.87 L495.78 536.44 L496.46 537.01 L497.14 537.58 L497.82 538.14 L498.50 538.70 L499.18 539.26 L499.86 539.81 L500.54 540.37 L501.22 540.92 L501.89 541.46 L502.57 542.01 L503.25 542.55 L503.93 543.09 L504.61 543.63 L505.29 544.17 L505.97 544.70 L506.65 545.23 L507.33 545.76 L508.01 546.29 L508.69 546.81 L509.37 547.34 L510.06 547.86 L510.74 548.38 L511.42 548.89 L512.10 549.40 L512.78 549.92 L513.46 550.42 L514.14 550.93 L514.82 551.44 L515.50 551.94 L516.18 552.44 L516.86 552.94 L517.54 553.43 L518.22 553.93 L518.91 554.42 L519.59 554.91 L520.27 555.40 L520.95 555.88 L521.63 556.36 L522.31 556.85 L522.99 557.32 L523.67 557.80 L524.36 558.28 L525.04 558.75 L525.72 559.22 L526.40 559.69 L527.08 560.16 L527.76 560.62 L528.44 561.08 L529.13 561.54 L529.81 562.00 L530.49 562.46 L531.17 562.91 L531.85 563.36 L532.54 563.82 L533.22 564.26 L533.90 564.71 L534.58 565.15 L535.26 565.60 L535.95 566.04 L536.63 566.48 L537.31 566.91 L537.99 567.35 L538.67 567.78 L539.36 568.21 L540.04 568.64 L540.72 569.07 L541.40 569.49 L542.09 569.92 L542.77 570.34 L543.45 570.76 L544.13 571.18 L544.82 571.59 L545.50 572.01 L546.18 572.42 L546.87 572.83 L547.55 573.24 L548.23 573.64 L548.91 574.05 L549.60 574.45 L550.28 574.85 L550.96 575.25 L551.65 575.65 L552.33 576.04 L553.01 576.44 L553.70 576.83 L554.38 577.22 L555.06 577.60 L555.75 577.99 L556.43 578.38 L557.11 578.76 L557.80 579.14 L558.48 579.52 L559.17 579.90 L559.85 580.27 L560.53 580.64 L561.22 581.02 L561.90 581.39 L562.59 581.75 L563.27 582.12 L563.95 582.49 L564.64 582.85 L565.32 583.21 L566.01 583.57 L566.69 583.93 L567.38 584.28 L568.06 584.64 L568.75 584.99 L569.43 585.34 L570.12 585.69 L570.80 586.03 L571.49 586.38 L572.17 586.72 L572.86 587.06 L573.55 587.40 L574.23 587.74 L574.92 588.08 L575.60 588.41 L576.29 588.74 L576.98 589.08 L577.66 589.40 L578.35 589.73 L579.04 590.06 L579.72 590.38 L580.41 590.70 L581.10 591.02 L581.79 591.34 L582.47 591.65 L583.16 591.97 L583.85 592.28 L584.54 592.59 L585.23 592.90 L585.91 593.21 L586.60 593.51 L587.29 593.82 L587.98 594.12 L588.67 594.42 L589.36 594.72 L590.05 595.01 L590.74 595.31 L591.43 595.60 L592.11 595.89 L592.80 596.18 L593.49 596.47 L594.18 596.75 L594.87 597.04 L595.56 597.32 L596.25 597.60 L596.94 597.88 L597.63 598.16 L598.32 598.44 L599.01 598.71 L599.70 598.98 L600.39 599.26 L601.08 599.53 L601.77 599.80 L602.46 600.07 L603.15 600.34 L603.84 600.60 L604.53 600.87 L605.22 601.14 L605.90 601.40 L606.59 601.67 L607.28 601.93 L607.97 602.19 L608.66 602.45 L609.34 602.72 L610.03 602.98 L610.72 603.24 L611.40 603.50 L612.09 603.76 L612.77 604.02 L613.46 604.28 L614.14 604.54 L614.82 604.80 L615.51 605.05 L616.19 605.31 L616.87 605.57 L617.56 605.83 L618.24 606.09 L618.92 606.34 L619.60 606.60 L620.28 606.86 L620.96 607.12 L621.64 607.37 L622.32 607.63 L623.00 607.88 L623.68 608.14 L624.36 608.39 L625.04 608.65 L625.72 608.90 L626.40 609.15 L627.08 609.40 L627.76 609.66 L628.44 609.91 L629.12 610.16 L629.80 610.40 L630.47 610.65 L631.15 610.90 L631.83 611.15 L632.51 611.39 L633.19 611.64 L633.87 611.88 L634.55 612.12 L635.22 612.36 L635.90 612.60 L636.58 612.84 L637.26 613.08 L637.94 613.32 L638.62 613.56 L639.30 613.79 L639.97 614.03 L640.65 614.26 L641.33 614.49 L642.01 614.72 L642.69 614.95 L643.37 615.18 L644.05 615.41 L644.73 615.64 L645.41 615.86 L646.08 616.09 L646.76 616.31 L647.44 616.54 L648.12 616.76 L648.80 616.98 L649.48 617.20 L650.16 617.42 L650.84 617.64 L651.52 617.85 L652.20 618.07 L652.88 618.28 L653.56 618.50 L654.24 618.71 L654.92 618.92 L655.60 619.13 L656.28 619.34 L656.96 619.55 L657.64 619.76 L658.32 619.96 L659.00 620.17 L659.68 620.38 L660.36 620.58 L661.04 620.78 L661.72 620.98 L662.40 621.18 L663.08 621.39 L663.76 621.58 L664.44 621.78 L665.12 621.98 L665.80 622.18 L666.48 622.37 L667.16 622.57 L667.84 622.76 L668.52 622.95 L669.20 623.14 L669.88 623.34 L670.56 623.53 L671.24 623.71 L671.92 623.90 L672.61 624.09 L673.29 624.28 L673.97 624.46 L674.65 624.65 L675.33 624.83 L676.01 625.01 L676.69 625.20 L677.37 625.38 L678.05 625.56 L678.73 625.74 L679.41 625.91 L680.09 626.09 L680.78 626.27 L681.46 626.44 L682.14 626.62 L682.82 626.79 L683.50 626.97 L684.18 627.14 L684.86 627.31 L685.54 627.48 L686.22 627.65 L686.91 627.82 L687.59 627.99 L688.27 628.16 L688.95 628.32 L689.63 628.49 L690.31 628.65 L690.99 628.82 L691.68 628.98 L692.36 629.14 L693.04 629.30 L693.72 629.46 L694.40 629.62 L695.08 629.78 L695.77 629.94 L696.45 630.10 L697.13 630.25 L697.81 630.41 L698.49 630.56 L699.17 630.72 L699.86 630.87 L700.54 631.02 L701.22 631.17 L701.90 631.32 L702.58 631.47 L703.27 631.62 L703.95 631.77 L704.63 631.91 L705.31 632.06 L706.00 632.20 L706.68 632.35 L707.36 632.49 L708.04 632.63 L708.73 632.78 L709.41 632.92 L710.09 633.06 L710.77 633.20 L711.46 633.33 L712.14 633.47 L712.82 633.61 L713.50 633.74 L714.19 633.88 L714.87 634.01 L715.55 634.14 L716.23 634.28 L716.92 634.41 L717.60 634.54 L718.28 634.67 L718.97 634.80 L719.65 634.93 L720.33 635.05 L721.01 635.18 L721.70 635.31 L722.38 635.43 L723.06 635.56 L723.75 635.68 L724.43 635.80 L725.11 635.93 L725.79 636.05 L726.48 636.17 L727.16 636.29 L727.84 636.41 L728.53 636.53 L729.21 636.65 L729.89 636.77 L730.58 636.88 L731.26 637.00 L731.94 637.12 L732.62 637.23 L733.31 637.35 L733.99 637.46 L734.67 637.58 L735.36 637.69 L736.04 637.81 L736.72 637.92 L737.40 638.03 L738.09 638.14 L738.77 638.25 L739.45 638.37 L740.13 638.48 L740.82 638.59 L741.50 638.70 L742.18 638.81 L742.86 638.92 L743.55 639.03 L744.23 639.13 L744.91 639.24 L745.59 639.35 L746.27 639.46 L746.96 639.57 L747.64 639.67 L748.32 639.78 L749.00 639.89 L749.68 639.99 L750.37 640.10 L751.05 640.21 L751.73 640.31 L752.41 640.42 L753.09 640.52 L753.77 640.63 L754.46 640.73 L755.14 640.84 L755.82 640.94 L756.50 641.05 L757.18 641.15 L757.86 641.26 L758.54 641.36 L759.22 641.46 L759.91 641.57 L760.59 641.67 L761.27 641.77 L761.95 641.88 L762.63 641.98 L763.31 642.08 L763.99 642.18 L764.67 642.28 L765.35 642.39 L766.03 642.49 L766.71 642.59 L767.39 642.69 L768.07 642.79 L768.75 642.89 L769.09 642.94" stroke="#888" stroke-width="1.2" stroke-dasharray="1.3 2.2"/>
<path d="M89.64 676.00 L90.32 676.00 L91.00 676.00 L91.68 676.00 L92.36 676.00 L93.04 676.00 L93.72 676.00 L94.40 676.00 L95.08 676.00 L95.76 676.00 L96.44 676.00 L97.12 676.00 L97.80 676.00 L98.48 676.00 L99.16 676.00 L99.84 676.00 L100.52 676.00 L101.19 676.00 L101.87 676.00 L102.55 676.00 L103.23 676.00 L103.91 676.00 L104.59 676.00 L105.27 676.00 L105.95 676.00 L106.63 676.00 L107.31 676.00 L107.99 676.00 L108.67 676.00 L109.35 676.00 L110.03 676.00 L110.71 676.00 L111.39 676.00 L112.07 676.00 L112.75 676.00 L113.43 676.00 L114.11 676.00 L114.79 676.00 L115.47 676.00 L116.15 676.00 L116.83 676.00 L117.51 676.00 L118.19 676.00 L118.87 676.00 L119.55 676.00 L120.23 676.00 L120.91 676.00 L121.59 676.00 L122.27 676.00 L122.95 676.00 L123.62 676.00 L124.30 676.00 L124.98 676.00 L125.66 676.00 L126.34 676.00 L127.02 676.00 L127.70 676.00 L128.38 676.00 L129.06 676.00 L129.74 676.00 L130.42 676.00 L131.10 676.00 L131.78 676.00 L132.46 676.00 L133.14 676.00 L133.82 676.00 L134.50 676.00 L135.18 676.00 L135.85 676.00 L136.53 676.00 L137.21 676.00 L137.88 676.00 L138.56 676.00 L139.23 676.00 L139.91 676.00 L140.58 676.00 L141.25 676.00 L141.91 675.99 L142.58 675.68 L143.24 675.33 L143.91 674.94 L144.57 674.50 L145.23 674.02 L145.89 673.50 L146.55 672.92 L147.21 672.28 L147.87 671.59 L148.53 670.83 L149.19 670.01 L149.86 669.12 L150.52 668.15 L151.19 667.11 L151.85 665.99 L152.52 664.79 L153.19 663.50 L153.86 662.12 L154.54 660.65 L155.17 659.07 L155.83 657.40 L156.49 655.64 L157.14 653.77 L157.79 651.80 L158.45 649.72 L159.10 647.54 L159.74 645.25 L160.39 642.85 L161.04 640.34 L161.68 637.71 L162.33 634.98 L162.97 632.14 L163.61 629.18 L164.25 626.12 L164.89 622.94 L165.52 619.65 L166.16 616.24 L166.79 612.73 L167.43 609.11 L168.06 605.38 L168.68 601.55 L169.31 597.61 L169.94 593.56 L170.56 589.41 L171.18 585.16 L171.79 580.82 L172.40 576.37 L173.02 571.84 L173.63 567.21 L174.25 562.50 L174.87 557.70 L175.51 552.81 L176.16 547.85 L176.82 542.82 L177.51 537.71 L178.21 532.53 L178.94 527.28 L179.68 521.97 L180.43 516.60 L181.20 511.18 L181.96 505.69 L182.74 500.15 L183.50 494.57 L184.27 488.93 L185.03 483.26 L185.78 477.54 L186.53 471.78 L187.28 466.00 L188.03 460.18 L188.78 454.33 L189.53 448.47 L190.28 442.58 L191.03 436.68 L191.78 430.76 L192.51 424.83 L193.24 418.89 L193.95 412.95 L194.66 407.00 L195.36 401.06 L196.05 395.12 L196.74 389.19 L197.43 383.26 L198.11 377.35 L198.80 371.46 L199.49 365.58 L200.17 359.73 L200.86 353.89 L201.55 348.09 L202.24 342.31 L202.94 336.57 L203.64 330.85 L204.34 325.18 L205.05 319.54 L205.76 313.93 L206.46 308.37 L207.17 302.86 L207.87 297.38 L208.56 291.96 L209.25 286.58 L209.94 281.25 L210.62 275.97 L211.30 270.74 L211.98 265.57 L212.66 260.45 L213.35 255.39 L214.03 250.39 L214.71 245.45 L215.39 240.57 L216.07 235.75 L216.76 230.99 L217.45 226.30 L218.14 221.67 L218.84 217.11 L219.55 212.61 L220.27 208.18 L221.00 203.83 L221.74 199.54 L222.50 195.33 L223.28 191.18 L224.06 187.11 L224.85 183.11 L225.63 179.18 L226.41 175.32 L227.18 171.53 L227.94 167.80 L228.69 164.15 L229.43 160.57 L230.15 157.06 L230.87 153.62 L231.58 150.25 L232.28 146.95 L232.97 143.71 L233.66 140.55 L234.34 137.47 L235.02 134.45 L235.70 131.50 L236.37 128.62 L237.04 125.81 L237.70 123.07 L238.37 120.40 L239.03 117.80 L239.69 115.27 L240.34 112.81 L241.00 110.42 L241.65 108.09 L242.31 105.83 L242.96 103.64 L243.61 101.52 L244.26 99.46 L244.91 97.47 L245.56 95.54 L246.21 93.68 L246.86 91.88 L247.51 90.15 L248.16 88.48 L248.81 86.87 L249.46 85.32 L250.11 83.84 L250.76 82.42 L251.41 81.06 L252.06 79.76 L252.72 78.51 L253.37 77.33 L254.02 76.21 L254.68 75.14 L255.33 74.13 L255.98 73.18 L256.64 72.28 L257.29 71.43 L257.95 70.65 L258.60 69.91 L259.25 69.23 L259.91 68.60 L260.56 68.02 L261.21 67.49 L261.87 67.01 L262.52 66.58 L263.17 66.20 L263.83 65.86 L264.48 65.57 L265.13 65.33 L265.78 65.13 L266.43 64.97 L267.09 64.86 L267.74 64.79 L268.40 64.76 L269.06 64.78 L269.72 64.83 L270.38 64.93 L271.04 65.06 L271.71 65.24 L272.37 65.45 L273.04 65.70 L273.72 65.99 L274.39 66.32 L275.06 66.68 L275.74 67.08 L276.42 67.52 L277.10 67.99 L277.77 68.49 L278.46 69.04 L279.14 69.61 L279.82 70.22 L280.50 70.86 L281.19 71.53 L281.87 72.23 L282.56 72.96 L283.24 73.72 L283.93 74.52 L284.61 75.34 L285.30 76.18 L285.98 77.06 L286.67 77.96 L287.36 78.89 L288.04 79.85 L288.73 80.83 L289.42 81.84 L290.10 82.87 L290.79 83.92 L291.48 85.00 L292.16 86.10 L292.85 87.22 L293.54 88.36 L294.22 89.53 L294.91 90.72 L295.60 91.92 L296.28 93.15 L296.97 94.39 L297.65 95.66 L298.34 96.94 L299.03 98.24 L299.71 99.56 L300.40 100.89 L301.09 102.24 L301.77 103.61 L302.46 104.99 L303.14 106.39 L303.83 107.80 L304.52 109.23 L305.20 110.67 L305.89 112.13 L306.58 113.60 L307.26 115.08 L307.95 116.57 L308.64 118.08 L309.32 119.60 L310.01 121.13 L310.69 122.67 L311.38 124.22 L312.06 125.78 L312.75 127.36 L313.43 128.94 L314.12 130.53 L314.80 132.13 L315.48 133.75 L316.17 135.37 L316.85 136.99 L317.53 138.63 L318.21 140.28 L318.89 141.93 L319.56 143.59 L320.24 145.25 L320.92 146.93 L321.59 148.61 L322.27 150.30 L322.94 151.99 L323.61 153.69 L324.28 155.40 L324.95 157.11 L325.61 158.82 L326.28 160.54 L326.94 162.27 L327.61 164.00 L328.27 165.73 L328.93 167.47 L329.59 169.21 L330.25 170.96 L330.90 172.71 L331.56 174.46 L332.22 176.21 L332.87 177.97 L333.53 179.73 L334.19 181.49 L334.84 183.25 L335.50 185.02 L336.15 186.79 L336.81 188.55 L337.47 190.32 L338.12 192.09 L338.78 193.86 L339.44 195.63 L340.10 197.40 L340.76 199.17 L341.42 200.94 L342.08 202.71 L342.75 204.47 L343.41 206.24 L344.08 208.01 L344.74 209.77 L345.41 211.54 L346.08 213.30 L346.75 215.06 L347.42 216.82 L348.09 218.58 L348.76 220.34 L349.44 222.10 L350.11 223.85 L350.78 225.60 L351.46 227.35 L352.13 229.10 L352.81 230.84 L353.49 232.58 L354.17 234.32 L354.84 236.06 L355.52 237.80 L356.20 239.53 L356.88 241.26 L357.56 242.98 L358.24 244.71 L358.93 246.42 L359.61 248.14 L360.29 249.85 L360.97 251.56 L361.66 253.27 L362.34 254.97 L363.03 256.67 L363.72 258.37 L364.40 260.06 L365.09 261.75 L365.78 263.43 L366.47 265.11 L367.16 266.78 L367.85 268.45 L368.55 270.12 L369.24 271.78 L369.94 273.44 L370.63 275.09 L371.33 276.74 L372.03 278.38 L372.73 280.02 L373.43 281.66 L374.13 283.29 L374.83 284.91 L375.53 286.53 L376.23 288.15 L376.93 289.76 L377.63 291.36 L378.33 292.97 L379.03 294.56 L379.73 296.16 L380.43 297.75 L381.13 299.33 L381.82 300.91 L382.51 302.49 L383.20 304.06 L383.89 305.63 L384.58 307.19 L385.27 308.75 L385.96 310.31 L386.64 311.86 L387.33 313.40 L388.01 314.94 L388.69 316.48 L389.38 318.01 L390.06 319.53 L390.74 321.06 L391.42 322.57 L392.10 324.08 L392.78 325.59 L393.46 327.09 L394.14 328.59 L394.82 330.08 L395.50 331.56 L396.18 333.04 L396.86 334.52 L397.54 335.99 L398.22 337.45 L398.90 338.91 L399.58 340.36 L400.26 341.81 L400.94 343.25 L401.62 344.69 L402.29 346.12 L402.97 347.55 L403.65 348.97 L404.33 350.39 L405.01 351.80 L405.69 353.21 L406.37 354.61 L407.04 356.00 L407.72 357.39 L408.40 358.78 L409.08 360.16 L409.76 361.53 L410.43 362.90 L411.11 364.26 L411.79 365.62 L412.46 366.97 L413.14 368.32 L413.82 369.66 L414.49 371.00 L415.17 372.33 L415.84 373.66 L416.52 374.98 L417.19 376.30 L417.86 377.61 L418.54 378.92 L419.21 380.22 L419.88 381.51 L420.55 382.80 L421.22 384.09 L421.89 385.37 L422.56 386.65 L423.23 387.92 L423.90 389.19 L424.56 390.45 L425.23 391.71 L425.89 392.96 L426.56 394.21 L427.22 395.45 L427.88 396.69 L428.54 397.93 L429.20 399.16 L429.86 400.38 L430.52 401.60 L431.17 402.82 L431.83 404.03 L432.48 405.24 L433.14 406.44 L433.79 407.64 L434.44 408.83 L435.09 410.02 L435.74 411.20 L436.39 412.38 L437.04 413.56 L437.70 414.73 L438.35 415.89 L439.00 417.05 L439.65 418.21 L440.30 419.36 L440.95 420.50 L441.60 421.64 L442.25 422.78 L442.90 423.91 L443.56 425.03 L444.21 426.15 L444.87 427.26 L445.52 428.37 L446.18 429.47 L446.84 430.57 L447.50 431.66 L448.16 432.75 L448.82 433.83 L449.48 434.91 L450.15 435.98 L450.81 437.04 L451.48 438.10 L452.15 439.15 L452.81 440.20 L453.48 441.25 L454.15 442.29 L454.82 443.32 L455.49 444.35 L456.17 445.37 L456.84 446.39 L457.51 447.40 L458.19 448.41 L458.86 449.41 L459.54 450.41 L460.21 451.40 L460.89 452.39 L461.57 453.37 L462.25 454.35 L462.92 455.33 L463.60 456.29 L464.28 457.26 L464.96 458.22 L465.64 459.17 L466.32 460.12 L467.00 461.07 L467.68 462.01 L468.36 462.95 L469.04 463.88 L469.73 464.81 L470.41 465.73 L471.09 466.65 L471.77 467.56 L472.45 468.47 L473.13 469.38 L473.82 470.28 L474.50 471.18 L475.18 472.07 L475.86 472.96 L476.54 473.85 L477.22 474.73 L477.91 475.60 L478.59 476.48 L479.27 477.35 L479.95 478.21 L480.63 479.07 L481.31 479.93 L481.99 480.78 L482.67 481.63 L483.35 482.48 L484.04 483.32 L484.72 484.16 L485.40 484.99 L486.08 485.82 L486.76 486.65 L487.44 487.47 L488.11 488.29 L488.79 489.11 L489.47 489.92 L490.15 490.73 L490.83 491.53 L491.51 492.33 L492.19 493.13 L492.87 493.92 L493.55 494.71 L494.22 495.50 L494.90 496.28 L495.58 497.06 L496.26 497.84 L496.93 498.61 L497.61 499.38 L498.29 500.15 L498.97 500.91 L499.64 501.67 L500.32 502.42 L501.00 503.18 L501.68 503.92 L502.35 504.67 L503.03 505.41 L503.71 506.15 L504.38 506.88 L505.06 507.62 L505.74 508.34 L506.42 509.07 L507.09 509.79 L507.77 510.51 L508.45 511.22 L509.12 511.93 L509.80 512.64 L510.48 513.35 L511.16 514.05 L511.83 514.75 L512.51 515.44 L513.19 516.13 L513.87 516.82 L514.54 517.50 L515.22 518.19 L515.90 518.86 L516.58 519.54 L517.26 520.21 L517.94 520.88 L518.61 521.54 L519.29 522.21 L519.97 522.86 L520.65 523.52 L521.33 524.17 L522.01 524.82 L522.69 525.47 L523.37 526.11 L524.05 526.75 L524.73 527.38 L525.41 528.02 L526.10 528.65 L526.78 529.27 L527.46 529.89 L528.14 530.51 L528.82 531.13 L529.51 531.74 L530.19 532.35 L530.87 532.96 L531.56 533.56 L532.24 534.16 L532.92 534.76 L533.61 535.35 L534.29 535.94 L534.98 536.53 L535.67 537.12 L536.35 537.70 L537.04 538.27 L537.73 538.85 L538.41 539.42 L539.10 539.99 L539.79 540.55 L540.48 541.11 L541.16 541.67 L541.85 542.23 L542.54 542.78 L543.23 543.33 L543.92 543.87 L544.61 544.42 L545.30 544.96 L546.00 545.49 L546.69 546.03 L547.38 546.56 L548.07 547.09 L548.76 547.61 L549.46 548.13 L550.15 548.65 L550.84 549.17 L551.53 549.68 L552.23 550.19 L552.92 550.70 L553.61 551.20 L554.31 551.70 L555.00 552.20 L555.70 552.70 L556.39 553.19 L557.08 553.68 L557.78 554.17 L558.47 554.66 L559.17 555.14 L559.86 555.62 L560.56 556.10 L561.25 556.57 L561.94 557.05 L562.64 557.52 L563.33 557.99 L564.03 558.46 L564.72 558.92 L565.41 559.38 L566.11 559.84 L566.80 560.30 L567.49 560.76 L568.18 561.21 L568.88 561.67 L569.57 562.12 L570.26 562.56 L570.95 563.01 L571.64 563.45 L572.34 563.90 L573.03 564.34 L573.72 564.78 L574.41 565.21 L575.10 565.65 L575.79 566.08 L576.48 566.51 L577.17 566.94 L577.86 567.37 L578.54 567.80 L579.23 568.22 L579.92 568.65 L580.61 569.07 L581.30 569.49 L581.98 569.91 L582.67 570.32 L583.36 570.74 L584.04 571.15 L584.73 571.56 L585.42 571.97 L586.10 572.38 L586.79 572.78 L587.48 573.19 L588.16 573.59 L588.85 573.99 L589.53 574.39 L590.22 574.79 L590.90 575.19 L591.59 575.58 L592.27 575.98 L592.95 576.37 L593.64 576.76 L594.32 577.15 L595.01 577.53 L595.69 577.92 L596.37 578.30 L597.06 578.68 L597.74 579.07 L598.42 579.44 L599.11 579.82 L599.79 580.20 L600.47 580.57 L601.15 580.94 L601.84 581.32 L602.52 581.68 L603.20 582.05 L603.88 582.42 L604.57 582.78 L605.25 583.15 L605.93 583.51 L606.61 583.87 L607.29 584.23 L607.98 584.59 L608.66 584.94 L609.34 585.30 L610.02 585.65 L610.70 586.00 L611.38 586.35 L612.06 586.70 L612.74 587.05 L613.43 587.39 L614.11 587.74 L614.79 588.08 L615.47 588.42 L616.15 588.76 L616.83 589.10 L617.51 589.44 L618.19 589.77 L618.87 590.11 L619.55 590.44 L620.23 590.78 L620.91 591.11 L621.59 591.44 L622.27 591.76 L622.95 592.09 L623.63 592.42 L624.31 592.74 L624.99 593.07 L625.67 593.39 L626.35 593.71 L627.03 594.03 L627.71 594.35 L628.38 594.67 L629.06 594.98 L629.74 595.30 L630.42 595.61 L631.10 595.93 L631.78 596.24 L632.45 596.55 L633.13 596.86 L633.81 597.17 L634.49 597.48 L635.17 597.79 L635.84 598.09 L636.52 598.40 L637.20 598.70 L637.88 599.01 L638.55 599.31 L639.23 599.61 L639.91 599.91 L640.58 600.21 L641.26 600.51 L641.94 600.80 L642.61 601.10 L643.29 601.39 L643.97 601.69 L644.64 601.98 L645.32 602.27 L646.00 602.56 L646.67 602.85 L647.35 603.14 L648.03 603.42 L648.71 603.71 L649.38 603.99 L650.06 604.27 L650.74 604.55 L651.41 604.83 L652.09 605.11 L652.77 605.39 L653.45 605.66 L654.13 605.94 L654.80 606.21 L655.48 606.48 L656.16 606.75 L656.84 607.02 L657.52 607.28 L658.20 607.55 L658.87 607.81 L659.55 608.07 L660.23 608.34 L660.91 608.60 L661.59 608.85 L662.27 609.11 L662.95 609.37 L663.63 609.62 L664.31 609.87 L664.99 610.12 L665.67 610.37 L666.35 610.62 L667.03 610.87 L667.71 611.11 L668.39 611.36 L669.07 611.60 L669.75 611.84 L670.43 612.08 L671.11 612.32 L671.79 612.56 L672.47 612.80 L673.15 613.03 L673.84 613.27 L674.52 613.50 L675.20 613.73 L675.88 613.96 L676.56 614.19 L677.24 614.42 L677.92 614.64 L678.61 614.87 L679.29 615.09 L679.97 615.31 L680.65 615.53 L681.33 615.75 L682.02 615.97 L682.70 616.19 L683.38 616.41 L684.06 616.62 L684.75 616.84 L685.43 617.05 L686.11 617.26 L686.79 617.47 L687.48 617.68 L688.16 617.89 L688.84 618.09 L689.53 618.30 L690.21 618.50 L690.89 618.71 L691.58 618.91 L692.26 619.11 L692.94 619.31 L693.63 619.51 L694.31 619.70 L694.99 619.90 L695.68 620.09 L696.36 620.29 L697.04 620.48 L697.73 620.67 L698.41 620.86 L699.10 621.05 L699.78 621.23 L700.46 621.42 L701.15 621.60 L701.83 621.79 L702.52 621.97 L703.20 622.15 L703.89 622.33 L704.57 622.51 L705.26 622.68 L705.94 622.86 L706.63 623.03 L707.31 623.21 L708.00 623.38 L708.68 623.55 L709.37 623.72 L710.05 623.89 L710.74 624.05 L711.43 624.22 L712.11 624.38 L712.80 624.55 L713.48 624.71 L714.17 624.87 L714.85 625.03 L715.54 625.19 L716.23 625.35 L716.91 625.50 L717.60 625.66 L718.29 625.81 L718.97 625.97 L719.66 626.12 L720.35 626.27 L721.03 626.42 L721.72 626.57 L722.40 626.71 L723.09 626.86 L723.78 627.01 L724.46 627.15 L725.15 627.29 L725.84 627.44 L726.52 627.58 L727.21 627.72 L727.90 627.86 L728.58 628.00 L729.27 628.14 L729.96 628.27 L730.64 628.41 L731.33 628.55 L732.02 628.68 L732.70 628.82 L733.39 628.95 L734.08 629.08 L734.76 629.22 L735.45 629.35 L736.13 629.48 L736.82 629.61 L737.51 629.74 L738.19 629.87 L738.88 630.00 L739.56 630.13 L740.25 630.26 L740.93 630.38 L741.62 630.51 L742.30 630.64 L742.99 630.77 L743.67 630.89 L744.36 631.02 L745.04 631.14 L745.73 631.27 L746.41 631.39 L747.10 631.52 L747.78 631.64 L748.47 631.77 L749.15 631.89 L749.84 632.02 L750.52 632.14 L751.20 632.26 L751.89 632.39 L752.57 632.51 L753.25 632.63 L753.94 632.76 L754.62 632.88 L755.30 633.00 L755.99 633.13 L756.67 633.25 L757.35 633.37 L758.03 633.49 L758.72 633.62 L759.40 633.74 L760.08 633.86 L760.76 633.98 L761.44 634.10 L762.13 634.22 L762.81 634.35 L763.49 634.47 L764.17 634.59 L764.85 634.71 L765.53 634.83 L766.22 634.95 L766.90 635.07 L767.58 635.19 L768.26 635.31 L768.94 635.44 L769.28 635.50" stroke="#000" stroke-width="6.2"/>
</g>
<g><text font-size="24.5" transform="translate(34.51 117.44) scale(0.9227 1)">800</text>
<text font-size="24.5" transform="translate(34.70 256.44) scale(0.9179 1)">600</text>
<text font-size="24.5" transform="translate(37.66 399.94) scale(0.9089 1)">400</text>
<text font-size="24.5" transform="translate(40.41 542.24) scale(0.9026 1)">200</text>
<text font-size="24.5" transform="translate(66.21 675.44) scale(0.9892 1)">0</text>
<text font-size="24.5" transform="translate(81.98 704.59) scale(0.9204 1)">0</text>
<text font-size="24.5" transform="translate(244.43 704.19) scale(0.8997 1)">500</text>
<text font-size="24.5" transform="translate(416.90 703.94) scale(0.9029 1)">000</text>
<text font-size="24.5" transform="translate(587.83 704.19) scale(0.8997 1)">500</text>
<text font-size="24.5" transform="translate(741.09 703.89) scale(0.9300 1)">2000</text>
<text font-size="24.5" transform="translate(220.56 50.54) scale(0.8804 1)"><tspan font-style="italic">T</tspan>=5500K</text>
<text font-size="24.5" transform="translate(245.56 276.44) scale(0.8804 1)"><tspan font-style="italic">T</tspan>=5000K</text>
<text font-size="24.5" transform="translate(257.65 440.24) scale(0.8874 1)"><tspan font-style="italic">T</tspan>=4500K</text>
<text font-size="24.5" transform="translate(276.07 536.54) scale(0.8754 1)"><tspan font-style="italic">T</tspan>=4000K</text>
<text font-size="24.5" transform="translate(316.97 603.89) scale(0.8724 1)"><tspan font-style="italic">T</tspan>=3500K</text>
<text font-size="23.0" transform="translate(634.58 739.20) scale(0.8902 1)">Длина волны</text>
<text font-size="22.5" transform="translate(16.60 224.29) rotate(-90) scale(0.9248 1)">Мощность излучения</text>
<path fill="#000" d="M413.50 687.40 L413.50 703.80 L410.40 703.80 L410.40 694.80 L407.10 693.60 L406.30 691.70 L411.70 687.40 Z M583.70 687.10 L583.70 703.80 L580.50 703.80 L580.50 694.50 L577.60 693.30 L576.80 691.40 L581.90 687.10 Z"/></g>
</svg>
</body></html>
